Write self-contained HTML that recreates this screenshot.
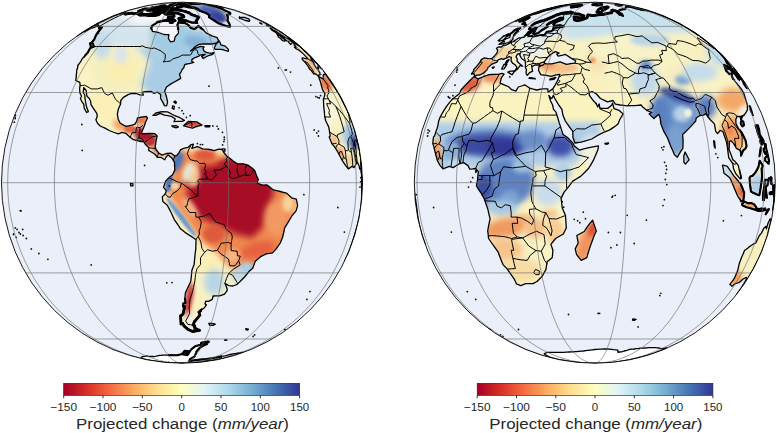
<!DOCTYPE html><html><head><meta charset="utf-8"><style>html,body{margin:0;padding:0;background:#fff;overflow:hidden}svg{display:block;font-family:"Liberation Sans",sans-serif;fill:#262626}</style></head><body>
<svg width="777" height="433" viewBox="0 0 777 433">
<defs><filter id="blur" x="-20%" y="-20%" width="140%" height="140%"><feGaussianBlur stdDeviation="3"/></filter><filter id="blur2" x="-20%" y="-20%" width="140%" height="140%"><feGaussianBlur stdDeviation="1.5"/></filter><filter id="b3" x="-30%" y="-30%" width="160%" height="160%"><feGaussianBlur stdDeviation="3"/></filter><filter id="b2" x="-40%" y="-40%" width="180%" height="180%"><feGaussianBlur stdDeviation="2"/></filter><filter id="b1" x="-60%" y="-60%" width="220%" height="220%"><feGaussianBlur stdDeviation="1.2"/></filter></defs>
<clipPath id="clipL"><circle cx="182.0" cy="182.7" r="180.5"/></clipPath>
<circle cx="182.0" cy="182.7" r="180.5" fill="#eaeffa"/>
<g clip-path="url(#clipL)">
<path d="M148.0,20.0 182.0,20.0 186.0,34.0 178.0,46.0 165.0,52.0 148.0,40.0Z" fill="#f6f7fb" filter="url(#blur2)"/>
<path d="M211.0,50.0 210.8,51.0 210.2,52.0 209.2,52.8 208.0,53.5 206.6,53.9 205.0,54.0 203.4,53.9 202.0,53.5 200.8,52.8 199.8,52.0 199.2,51.0 199.0,50.0 199.2,49.0 199.8,48.0 200.8,47.2 202.0,46.5 203.4,46.1 205.0,46.0 206.6,46.1 208.0,46.5 209.2,47.2 210.2,48.0 210.8,49.0Z" fill="#f6f7fa" filter="url(#blur2)"/>
<defs><path id="coastL" d="M182.5,353.9 183.6,352.6 184.8,351.2 187,351.5 189.2,351.8 188.1,353.4 187.2,354.8 185.7,354.5 184.1,354.2 182.5,353.9ZM215.2,324.2 213.4,325.3 209.7,325.3 208.8,323.4 211,323.5 213.1,323.6 215.2,324.2ZM184.3,308.1 184.7,306.5 183.6,306.5 183.2,303.5 185.5,303 185.2,300.3 184.9,297.5 185.5,292.6 187.9,287.5 189.3,284.5 190.7,281.5 191.1,278.6 191.4,275.7 191.9,270.2 194.1,264.6 194.5,260.4 194.9,256.1 195.3,252.5 195.8,248.9 195.9,244.3 196,239.7 192.5,237.3 186.5,233.4 180.5,228.8 178,224.8 174.3,219.6 172.7,216.1 171.1,212.5 169.2,208.9 167.3,205.3 162.9,201.6 162.3,196.9 165.4,193.7 166.3,190.6 163.5,187.4 165.6,181.1 169.4,177.3 172.6,174.8 174.8,170.1 174.6,166.2 174.5,162.3 172,158.2 168,154.8 165.8,157.6 164.8,159.8 160.8,157.3 157.4,157.3 155.3,154.5 151.4,152 148.7,150.4 148.8,147.6 145.3,144.2 143.4,141.5 141,141.5 137.2,140.6 132.8,139.3 130.1,137.2 125.8,133.3 122.1,132.3 118.3,133.9 112.9,132 109.2,130.5 105,128.1 100.2,126 97.5,123.3 95.9,119.8 97.3,116.3 96.9,113.6 95.6,111.6 92.9,107.6 91,104.7 90.7,101.6 89.3,98.5 87.2,96.6 86.6,94.4 86.2,90.5 83.8,87.6 83.2,92.5 84.8,95.2 85.1,99.1 85.7,102.7 86.6,107 88.3,111.6 86.6,112.5 84.2,108.1 83.7,104.1 81.7,101.3 80.4,98.5 81.6,96.3 79.9,93 79.6,88.4 80.1,85.5 79.9,82.8 78.8,81.8 75.7,80.5 76.2,77.1 76.3,74.6 76.7,72.3 76.6,70.8 77.7,67.2 77.8,65.5 80.5,61.9 82.4,58.5 85,55.6 87.5,52.9 88.9,50.4 90.4,47.9 91.7,47.5 90.9,46.9 90.4,45 90.1,43.2 91.6,43.5 93,43.8 91.9,42.4 94.2,39.5 95,37.6 95.8,35.8 96.7,33.9 99.3,30.5 101.1,28 99.1,28.3 99.4,27.5 99.8,26.7 99,26.5 98.3,26.4 98.1,25.9 98,25.4 96.2,26.1 94.5,26.7 93.2,27.2 92,27.7 97.8,24.5 95.2,25.6 90.7,28 88.5,29.1 86.3,30.3 82.5,32.5 81.2,33.2 80,33.9 78,35.2 77.2,35.8 79,34.5 80.9,33.2 83.6,31.6 86.3,30 88.9,28.5 91.9,26.4 92.6,25.9 93.4,25.4 95,24.5 98.5,22.7 100.3,21.7 101,21.4 101.7,21.2 104.5,19.8 107.5,18.3 110.5,17 111.5,16.5 114,15.5 118.2,13.9 119.7,13.3 121.2,12.8 122.4,12.4 123.5,12.1 124.8,11.7 124.3,12.1 124.1,12.4 124.2,12.9 124.5,13.2 124.9,13.7 125.4,14.2 126.8,13.9 128.1,13.6 129.4,13.4 130.7,13.3 132.1,13.1 132.6,13.3 133.1,13.5 133.7,13.7 135.2,13.6 136.7,13.5 137.6,13.9 138.5,14.3 139.1,14.7 139.8,15.1 141.7,15.1 143.7,15 145.7,15 147.3,15.3 148.9,15.6 150.9,15.6 152.8,15.6 154.8,15.6 157.4,15 156.2,14.7 154.9,14.4 157.9,13.1 158.8,13.4 159.8,13.6 161.5,12.4 163.2,11.2 163.5,12.1 164,13.1 165,13.7 166.2,14.4 168.4,14 170.5,13.6 172.1,13.6 173.7,13.6 173.9,14.9 174.1,16.3 172.2,16.6 170.2,16.9 168.3,17.2 168,17.9 170.4,18.2 171.8,18.8 173.3,19.4 175.1,20.7 172.3,20.7 169.5,20.7 166.8,20.7 166.4,20.3 163.6,20.9 160.8,21.5 157.9,22.2 155.2,23.8 152.3,25.6 151.2,28.3 152.4,31.3 155.5,31.9 158.6,32.5 161.3,33.5 164.1,34.5 166.5,34.6 168.9,34.7 168.6,36.6 168.4,38.5 170.6,41.8 174.2,41.2 174.7,38.9 175.2,36.7 178.5,33.1 178.3,30.5 178.1,28 177.4,24.8 178.4,22.6 180.5,22.7 182.7,22.9 184.9,23 188.1,24.8 190.9,28 194.4,29.1 197.1,27.2 198.3,25.9 201,28.1 203.8,30.5 206.4,33.1 209.1,34.4 211.8,35.8 214.3,36.7 217,37.6 218.7,40.5 216.8,43 214.4,43.5 211.9,44 208,44 204,44 201.6,44.2 199.1,44.4 195.4,46.5 193.1,48.8 190.6,51.1 193.6,49 197.1,47.6 200.5,46.3 204.1,46.9 203,48.6 203.8,50.7 206.3,52.4 208.8,52.9 211.4,53.3 214.3,52.4 212.7,54.4 210.2,55.2 207.6,56 205.4,57.2 203.2,58.5 201.7,56.4 205.1,54.4 202.5,54.7 199.8,55.1 198.8,56.2 194.5,57.8 191.9,59.6 191.8,61.5 193.7,62.4 190.3,63.3 187.6,63.9 184.9,64.5 184.4,65.5 183.7,68.1 182,69.6 181.3,71.6 179.5,74.1 180.7,78.4 178.1,79.9 174.4,82 170.9,83.9 166.5,87 164.7,91.1 165.6,94 166.5,96.8 167.6,102.2 166.6,105.8 164.4,105.6 162.9,102.4 160.6,98.5 160.6,94.6 157.6,92.2 153.7,93.3 151,91.4 145.6,91.6 142.6,92.2 143.3,95.2 139.9,94.9 136.1,93.5 131.5,93.3 128.1,94.6 123.4,97.4 120.8,100.5 120.6,103.9 118.5,108.7 117.3,114.2 118.2,119.2 120.1,123 123.5,125.1 126.2,126.3 132,125.1 134.9,124.2 136.6,121.3 137.5,118 141.3,117.1 146.2,116.5 147.5,118 145.5,122.2 144.3,126 142.6,129.9 141.5,133.3 144.4,133.6 149.5,133.3 154.8,133.6 157.1,136 156.1,140.6 155.2,146.7 156.1,149.8 158.8,152.9 161.8,155.1 166.5,153.5 171.1,153.2 174.8,156 176.7,155.7 178.9,152.9 180.5,149.8 183.5,148.3 188.2,147.3 191.2,144.6 193.4,144.2 191.9,148.3 194.4,147.6 197.4,146.7 202.7,148.9 206.2,149.2 209.8,149.5 214.4,150.7 218.9,149.2 221.9,149.5 222.2,150 222.2,148.9 224.9,148.9 225,151 222.9,151 223.5,152 226.7,156 230.7,159.1 233.5,161.3 237.5,163.8 243.4,163.8 247.8,165.1 252.3,168.2 254.7,170.4 256.8,176.4 258.3,179.5 257.1,183 262.5,185.2 266.7,184.9 270.2,187.4 273.5,189.9 276.9,190.7 280.2,191.5 283.4,192.3 286.6,193.1 291.5,197.8 296.3,199.1 297,202.4 297.6,205.6 296.1,210.9 291.7,216.2 289.8,219.5 287.9,222.7 284.7,227.9 283.7,232.5 282.7,237 280.3,243 276.2,248.9 272.6,252.9 269.4,253.4 266.2,253.8 260.6,256.7 255.3,261.3 254,264.8 252.7,268.3 248.9,271.6 244.6,277 241.8,279.8 239,282.6 236.6,284.7 232.9,286 229,285.7 225,283.6 226.7,287.5 227.3,290.3 224.5,294.1 219.6,295.8 216.4,295.9 213.1,296 212.3,299.4 208.4,301.4 205.7,301.1 205,303.9 206.4,304.9 204.1,308.1 201.4,310.1 198.9,312.1 199.9,315.1 196.8,318.9 194.2,322 193.2,324.9 194.7,325.7 194.2,326.3 195.8,328.7 197.7,329.6 199.5,330.4 196.3,330.9 192.7,331.5 190.6,330.6 188.4,329.6 186.2,327.8 183.9,325.9 182.7,323.4 181,324 180.8,320 180.5,315.8 182,315.2 183.1,313.6 183.7,310.9 184.3,308.1ZM93.6,46.5 93.2,46.9 93.8,46.7 93.4,45.2 93,43.8 93.3,45.1 93.6,46.5ZM158.3,14.8 159.6,13.8 157.7,14.9 158.3,14.8ZM130.4,183.3 132.9,183.6 132.9,185.9 130.7,185.9 130.4,183.3ZM178.4,126.9 176,127.8 173,126.9 171.8,126 176.3,125.7 178.4,126.9ZM204.9,125.7 210,125.7 209.7,126.9 205.3,126.9 204.9,125.7ZM188.5,121.3 192.7,121.6 196.8,121.9 202,125.1 196.9,126.3 192.5,128.1 186.5,126.6 183.5,125.7 188.5,121.3ZM182,121.3 178,121.4 174,121.6 175.2,118.9 171.2,116.3 167.8,115.7 164.5,115.1 160.2,113.3 155.8,115.4 152.9,115.4 156,113 161.8,111.6 167.5,111.9 171.1,113.8 174.7,115.7 179.9,117.7 184.4,120.4 182,121.3ZM172.2,108.4 172.6,105.8 174.3,106.4 173.9,109.3 172.2,108.4ZM173.8,101.9 175,101 176.4,102.2 175.8,103.6 173.8,101.9ZM171.7,23 169.7,22.6 171.5,22.5 173.3,22.4 171.7,23ZM175.6,12.9 173.6,12.7 171.6,12.4 169.7,12.2 167.8,12 168.2,10.8 168.7,9.6 170.5,9.6 172.3,9.5 174.1,9.5 175.5,9.7 177,9.9 178.6,10.1 180.1,10.3 181.7,10.6 183.3,11 185,11.4 187.1,12.1 189.4,12.8 191,14.2 193,15 195.1,15.7 197.3,16.5 198.6,17.4 197.3,19.4 196,21.2 197.3,23 194.4,22.8 191.4,22.6 188.8,21.7 186.2,20.7 183.8,20.4 181.5,20.1 179.3,19.8 178.7,18.5 181.4,17.7 183.9,16.9 183.2,15.3 180.9,14.5 178.7,13.6 177.1,13.2 175.6,12.9ZM145.1,8.9 146.1,9 147.1,9 148.1,9 149.1,9 148.3,9.8 147.1,10.3 148.5,10.3 149.9,10.3 151.7,10.1 153.6,9.9 153.6,10.7 153.8,11.5 154.4,12 155.1,12.6 154.5,13.4 152.6,13.7 150.6,13.9 148.7,14.2 146.8,14.3 145,14.4 143.2,14.5 141.5,14.6 140.3,14.4 139.3,14.2 138.3,14 140.1,12.8 142,11.6 141.2,11.7 140.4,11.7 139.7,11.6 139.1,11.4 138.5,11.2 141.8,10 145.1,8.9ZM166.7,9.1 167.7,9.4 168.7,9.6 168,10.6 166.2,10.8 164.5,11 162.7,11.2 161.2,11 160.9,11.2 159.2,11.3 157.6,11.4 156,11.5 158,10.1 160.1,9.8 161,9.2 162.4,9.2 163.8,9.1 165.3,9.1 166.7,9.1ZM170.8,4.9 172.1,4.8 173.4,4.6 174.7,4.4 174.3,5 175.4,4.7 176.4,4.4 177.4,4.2 178.3,4.1 179.2,4 180.1,4 180.9,3.9 181.7,3.8 182.5,3.8 183.3,3.7 184,3.6 184.8,3.7 185.7,3.7 186.6,3.8 187.5,3.9 187,4.1 186.4,4.4 185.6,4.6 184.7,4.9 183.9,5.1 183,5.3 182,5.5 182,6.8 180.8,6.9 179.6,7.1 178.4,7.2 177.1,7.3 178.3,7.3 177.8,8.8 176.1,8.7 174.5,8.7 172.8,8.7 171.2,8.7 169.6,8.7 168.6,8.3 167.6,8 167.2,8.7 165.9,8.7 164.7,8.8 165.6,8.1 166.5,8 167.4,8 166.9,7.8 166.4,7.6 168,7.4 169.6,7.3 171.2,7.1 172.6,5.9 171.4,6 170.3,6.1 169.2,6.1 170.8,4.9ZM160.9,7.2 159.1,8.5 157.7,8.6 156.3,8.6 154.9,8.6 153.6,8.7 152.3,8.7 151,8.8 151.5,8.1 152.2,7.6 153.4,7.5 154.6,7.5 155.9,7.4 157.1,7.3 158.4,7.3 159.6,7.2 160.9,7.2ZM164.5,8.4 163.4,8.4 162.3,8.4 164.8,6.8 166.1,6.8 167.4,6.8 164.5,8.4ZM163.5,6.3 162.2,6.3 160.9,6.4 159.6,6.5 161.4,5.8 162.6,5.8 163.8,5.7 165,5.6 163.5,6.3ZM203.3,343.4 201.3,343.1 204,342.6 206.8,342.1 208.4,341.8 205.8,342.6 203.3,343.4ZM225.4,340.3 224.4,339.8 227,340 225.4,340.3ZM245.8,328.7 248.4,329.1 247.8,330 245.8,329.6 245.8,328.7ZM348.8,251.8 350.5,247.4 352,243 353.4,238.5 354.6,234.7 355.7,230.9 357.4,224.8 358.8,218.7 359.7,214 360.4,209.4 361.1,203.9 361.6,198.4 361.7,193.7 361.7,189.8 361.5,185.9 361.6,179.5 361.6,175.6 361.4,171.7 360.8,168.5 360.3,168.9 359.8,169.2 358.9,165.4 357.5,162.6 356.2,163.8 355.2,165.7 354,167.6 352,166.3 350.2,167.6 348.3,168.9 345.5,165.4 342.3,160.7 339.1,154.5 336.5,149.8 334.4,146.7 331.8,143.6 330.5,140.3 329.2,136.9 330.2,136 329.5,131.4 328.7,126.9 325.8,121 324.7,116.5 324.3,111.4 323.7,106.4 323.6,102.9 323.4,99.4 324.3,96.6 325,93.8 322.5,89.7 321.4,85.5 320.2,81.2 318.7,77.1 319.1,76.9 321.1,77.9 323,78.9 323.3,77.9 323.4,76.2 323.4,74.6 324.1,74.5 324.8,74.4 325.3,74.3 325,73.3 325.8,74.1 328.5,77.9 332.1,83.1 333.5,84.7 334.5,86.1 337.7,91.3 340.7,96.7 343.5,102.1 346.1,107.6 348.6,113.1 350.8,118.8 352.9,124.5 354.7,130.4 356.4,136.2 357.9,142.1 359.2,148.1 360.2,154.1 361.1,160.1 361.7,166.2 362.2,172.3 362.4,178.4 362.5,184.5 362.3,190.5 362,196.6 361.4,202.7 360.6,208.8 359.6,214.8 358.4,220.7 357.1,226.7 355.5,232.6 353.7,238.4 351.7,244.2 349.5,249.9 347.2,255.5 344.6,261 346.8,256.4 348.8,251.8ZM309.6,55.1 308,53.5 308.6,54.2 311.3,56.9 312.9,58.5 315.7,61.5 316.3,62.1 319.6,65.9 318.6,64.8 317.1,63.1 314.8,60.8 311.3,57.3 310.4,56.6 311.2,57.8 312.2,59.4 311,58.7 311.5,60.1 313.5,62.2 313.8,63.2 314.1,64.3 316.3,67.9 318,69.6 319.7,72.6 320.2,74.8 319.5,75 318.6,75.1 318.7,76.6 316.3,74.3 314.8,73.6 313.8,74.1 311.2,70.3 310,69.6 308,66.2 304.8,61.9 302.3,59.6 302.1,58 303.6,58.2 305,58.5 306.3,58.6 307.5,58.7 305.2,55.7 302.4,52.9 298.7,50 295.9,48.6 294.4,47.3 295.1,46.9 296.2,47.1 294.1,45 295.3,45.4 294.3,44 292.7,42.2 292.3,41.6 290,39.5 288.5,38.2 288.3,37.6 287.9,37 284.9,34.8 280.1,31.7 279.2,30.9 278.2,30.1 282.1,32.7 285.1,34.8 287.8,36.7 287.6,36.4 287.3,36.1 288.3,36.9 293,40.4 297.8,44.2 302.4,48.2 306.9,52.4 311.3,56.7 309.6,55.1ZM284.5,34.1 283.9,33.8 281.5,32.2 277.5,29.6 274.8,28 275.8,28.8 276.9,29.6 275.7,29.1 270.9,26.4 265.5,23.3 263.7,22.2 261.9,21.2 260.3,20.3 258.7,19.4 253.9,17.2 248.2,14.8 253.5,17 258.7,19.3 263.9,21.8 268.9,24.5 273.9,27.4 278.8,30.4 283.6,33.5 284.5,34.1ZM361.1,172.6 360.9,170.7 361.1,172.6ZM324.5,72.1 323.8,71.1 326.6,74.7 325.6,73.4 324.5,72.1ZM317.7,66.9 318.7,68.4 317.7,67.6 317.7,66.9ZM321.5,68.9 317.5,64.5 321.5,68.9ZM316.6,63.3 314,60.5 313.4,59.6 316.7,63.3ZM221.6,49.4 218.3,49.4 214.9,49.4 214.4,47.5 216.5,43.4 219.4,41.2 220.9,44.8 225.2,46.1 228.4,49.4 228.4,51.3 225,50.4 221.6,49.4ZM279.8,35.6 281.2,36.9 285.3,40.1 285.1,40.7 284.8,41.2 282.7,40.7 280.6,38.5 278.2,36.7 277.9,35.6 277.1,34.3 279.8,35.6ZM278.7,34.8 275.7,32.5 272.4,30.5 270.4,28.6 271.4,28.6 273.4,30.3 275.3,30.8 279.7,33.8 283,35.8 286.1,37.8 288.4,39.1 292.1,42.2 292,42.8 291.7,43.3 291.3,43.8 291,44.1 290.5,44.4 288.7,42.4 288.9,41.6 287,41 284.7,38.9 284.6,38 282.9,36.7 280.1,35.4 278.7,34.8ZM268.9,26.5 266.4,25.1 267.4,25.6 268.9,26.5ZM260.1,22.9 262,24.1 259.6,22.9ZM246.5,20.7 245.2,20.5 240.2,18.5 239.7,17.3 241.2,17.4 242.7,17.5 243.7,17.4 244.6,17.3 248.5,18.8 249.8,20.1 249.6,20.7 249.4,21.3 247.9,21 246.5,20.7ZM201.6,11.5 199.2,10.1 196.9,8.8 195.1,8.1 193.3,7.6 191.8,7.4 190.4,7.2 189,7 187.7,6.8 186.3,6.5 185.1,6.1 183.9,5.8 185,5.4 185.9,5 186.7,4.7 187.5,4.5 188.2,4.3 188.9,4.2 189.6,4.1 190.3,4 190.9,3.9 191.4,3.8 192,3.7 192.5,3.7 193,3.6 193.8,3.5 194.5,3.5 195.1,3.4 195.9,3.4 196.7,3.5 197.4,3.5 198.2,3.5 199,3.6 199.8,3.6 200.5,3.7 201.3,3.7 202.4,3.8 203.4,4 204.5,4.1 205.6,4.2 206.9,4.5 208.1,4.9 209.3,5.2 212.7,6 216.1,6.8 219.1,7.8 222,8.8 223.6,9.6 225.1,10.6 230.1,12.6 230.3,13.1 230.4,13.6 229.7,14 228.9,14.3 228.1,14.6 227.1,15 227.5,16.1 227.8,17.2 227.9,18.3 227.7,19.4 227.4,20.5 228.5,22.2 229.5,24.1 230.1,26.7 227.8,26.4 225.6,25.8 223.3,25.1 220.9,24.2 218.5,23.3 214.2,20.5 211.5,18.8 209,17.2 209.5,15.3 206.1,13.1 203.8,12.3 201.6,11.5ZM213.9,5.1 213.3,4.9 212.7,4.8 217.8,5.8 222.9,6.9 220.4,6.3 217.9,5.8 213.9,5.1Z"/><path id="antL" d="M146.2,359.6 145.4,359.4 144.6,359.2 144,359 143.3,358.8 142.8,358.6 142.3,358.4 141.9,358.1 141.5,357.9 141.2,357.7 141.4,357.1 142.1,356.8 142.5,356.6 143.1,356.5 143.9,356.4 144.6,356.3 145.5,356.2 146.4,356 147.9,356.2 149.5,356.3 151.1,356.4 152.7,356.5 154.3,356.6 155.2,356.4 156.2,356.1 157.3,355.9 158.5,355.6 159.7,355.3 161.3,355.3 163,355.2 164.7,355.2 166.4,355.2 168.2,355.1 170,355.2 171.9,355.2 173.7,355.2 175.6,355.3 177.4,355.3 178.8,354.8 180.4,354.4 182,353.9 183.8,353.2 185.7,352.6 187.8,351.9 189.9,351.2 191.8,348.9 195.2,346.3 197.7,345.6 200.2,344.9 202.8,344.2 205,344.1 207.1,344 203.4,345.6 199.4,348.2 198,349.8 196.6,351.2 196.1,352.8 195.5,354.4 195,355.5 194.5,356.6 192,358 189.8,359.3 189.7,360.2 189.3,361 190.5,360.8 191.7,360.7 193,360.5 194.3,360.3 195.7,360.1 197.1,360 198.5,359.8 200,359.6 201.3,359.5 202.6,359.4 203.9,359.3 205.2,359.2 206.5,359.1 208.3,358.8 210.2,358.5 212,358.2 213.9,357.8 216.1,357.5 218.3,357 220.5,356.6 222.8,356.2 225,355.8 227.7,355.2 230.3,354.5 233,353.9 234.6,353.6 236.1,353.4 237.6,353.1 239,352.8 240.3,352.6 241.6,352.3 242.2,352.3 243,352.3 243.5,352.3 237.8,354.4 231.8,356.2 225.7,357.8 219.5,359.3 213.3,360.5 207.1,361.4 200.9,362.2 194.6,362.8 188.3,363.1 182,363.2 175.7,363.1 169.4,362.8 163.1,362.2 156.9,361.4 150.7,360.5 144.5,359.3 145,359.4 145.6,359.5 146.2,359.6Z"/></defs>
<clipPath id="landL"><use href="#coastL"/></clipPath>
<g clip-path="url(#landL)">
<use href="#coastL" fill="#f9f2c4"/>
<g>
<path d="M86.0,30.0 140.0,2.0 152.0,18.0 150.0,48.0 96.0,47.0Z" fill="#d4e5ef" filter="url(#b3)"/>
<path d="M95.0,46.0 136.0,48.0 142.0,64.0 138.0,86.0 115.0,96.0 95.0,90.0 90.0,60.0Z" fill="#f6efbe" filter="url(#b3)"/>
<path d="M136.0,70.0 135.5,73.1 134.1,76.0 131.9,78.5 129.0,80.4 125.6,81.6 122.0,82.0 118.4,81.6 115.0,80.4 112.1,78.5 109.9,76.0 108.5,73.1 108.0,70.0 108.5,66.9 109.9,64.0 112.1,61.5 115.0,59.6 118.4,58.4 122.0,58.0 125.6,58.4 129.0,59.6 131.9,61.5 134.1,64.0 135.5,66.9Z" fill="#faeeb0" filter="url(#b3)"/>
<path d="M111.0,45.0 110.7,48.6 109.8,52.0 108.4,54.9 106.5,57.1 104.3,58.5 102.0,59.0 99.7,58.5 97.5,57.1 95.6,54.9 94.2,52.0 93.3,48.6 93.0,45.0 93.3,41.4 94.2,38.0 95.6,35.1 97.5,32.9 99.7,31.5 102.0,31.0 104.3,31.5 106.5,32.9 108.4,35.1 109.8,38.0 110.7,41.4Z" fill="#c4dbe9" filter="url(#b3)"/>
<path d="M128.0,55.0 127.8,57.3 127.1,59.5 125.9,61.4 124.5,62.8 122.8,63.7 121.0,64.0 119.2,63.7 117.5,62.8 116.1,61.4 114.9,59.5 114.2,57.3 114.0,55.0 114.2,52.7 114.9,50.5 116.1,48.6 117.5,47.2 119.2,46.3 121.0,46.0 122.8,46.3 124.5,47.2 125.9,48.6 127.1,50.5 127.8,52.7Z" fill="#dce6e6" filter="url(#b2)"/>
<path d="M136.0,46.0 196.0,54.0 202.0,62.0 180.0,90.0 166.0,104.0 150.0,94.0 140.0,86.0 150.0,62.0Z" fill="#aacde5" filter="url(#b3)"/>
<path d="M150.0,20.0 182.0,22.0 216.0,34.0 230.0,50.0 206.0,63.0 172.0,58.0 150.0,48.0Z" fill="#a2cbe5" filter="url(#b3)"/>
<path d="M207.8,44.1 207.1,45.5 205.7,46.8 203.6,47.7 201.0,48.2 198.1,48.2 195.0,47.9 191.9,47.2 189.2,46.1 186.9,44.7 185.2,43.1 184.3,41.5 184.2,39.9 184.9,38.5 186.3,37.2 188.4,36.3 191.0,35.8 193.9,35.8 197.0,36.1 200.1,36.8 202.8,37.9 205.1,39.3 206.8,40.9 207.7,42.5Z" fill="#88b2d8" filter="url(#b2)"/>
<path d="M110.0,0.0 225.0,0.0 198.0,26.0 170.0,22.0 140.0,26.0 118.0,16.0Z" fill="#f4f6f8" filter="url(#b3)"/>
<path d="M225.7,19.5 224.1,21.7 221.2,23.2 217.2,24.0 212.4,23.9 207.0,23.0 201.6,21.4 196.3,19.1 191.7,16.4 188.0,13.3 185.4,10.2 184.1,7.2 184.3,4.5 185.9,2.3 188.8,0.8 192.8,0.0 197.6,0.1 203.0,1.0 208.4,2.6 213.7,4.9 218.3,7.6 222.0,10.7 224.6,13.8 225.9,16.8Z" fill="#8fb0d8" filter="url(#b3)"/>
<path d="M224.7,19.9 223.5,21.4 221.5,22.3 218.9,22.7 215.8,22.5 212.4,21.7 209.0,20.3 205.9,18.6 203.1,16.5 200.9,14.3 199.5,12.0 199.0,9.9 199.3,8.1 200.5,6.6 202.5,5.7 205.1,5.3 208.2,5.5 211.6,6.3 215.0,7.7 218.1,9.4 220.9,11.5 223.1,13.7 224.5,16.0 225.0,18.1Z" fill="#4a5fae" filter="url(#b2)"/>
<path d="M226.3,20.4 225.6,21.2 224.4,21.7 222.9,22.0 221.2,21.8 219.2,21.4 217.3,20.6 215.5,19.6 213.9,18.4 212.7,17.2 211.9,15.9 211.6,14.7 211.7,13.6 212.4,12.8 213.6,12.3 215.1,12.0 216.8,12.2 218.8,12.6 220.7,13.4 222.5,14.4 224.1,15.6 225.3,16.8 226.1,18.1 226.4,19.3Z" fill="#363c96" filter="url(#b2)"/>
<path d="M230.0,25.0 229.9,25.8 229.5,26.5 228.8,27.1 228.0,27.6 227.0,27.9 226.0,28.0 225.0,27.9 224.0,27.6 223.2,27.1 222.5,26.5 222.1,25.8 222.0,25.0 222.1,24.2 222.5,23.5 223.2,22.9 224.0,22.4 225.0,22.1 226.0,22.0 227.0,22.1 228.0,22.4 228.8,22.9 229.5,23.5 229.9,24.2Z" fill="#d0e2f0" filter="url(#b1)"/>
<path d="M251.0,18.0 250.8,18.8 250.2,19.5 249.2,20.1 248.0,20.6 246.6,20.9 245.0,21.0 243.4,20.9 242.0,20.6 240.8,20.1 239.8,19.5 239.2,18.8 239.0,18.0 239.2,17.2 239.8,16.5 240.8,15.9 242.0,15.4 243.4,15.1 245.0,15.0 246.6,15.1 248.0,15.4 249.2,15.9 250.2,16.5 250.8,17.2Z" fill="#b8d4ea" filter="url(#b1)"/>
<path d="M86.0,88.0 116.0,96.0 126.0,112.0 120.0,124.0 104.0,120.0 88.0,104.0Z" fill="#fbf0b8" filter="url(#b3)"/>
<path d="M131.1,130.2 130.2,131.3 128.8,131.9 126.9,132.2 124.7,132.0 122.3,131.5 119.9,130.5 117.6,129.3 115.6,127.8 114.1,126.2 113.1,124.6 112.7,123.1 112.9,121.8 113.8,120.7 115.2,120.1 117.1,119.8 119.3,120.0 121.7,120.5 124.1,121.5 126.4,122.7 128.4,124.2 129.9,125.8 130.9,127.4 131.3,128.9Z" fill="#f4a56c" filter="url(#b2)"/>
<path d="M148.0,120.0 147.8,121.3 147.2,122.5 146.2,123.5 145.0,124.3 143.6,124.8 142.0,125.0 140.4,124.8 139.0,124.3 137.8,123.5 136.8,122.5 136.2,121.3 136.0,120.0 136.2,118.7 136.8,117.5 137.8,116.5 139.0,115.7 140.4,115.2 142.0,115.0 143.6,115.2 145.0,115.7 146.2,116.5 147.2,117.5 147.8,118.7Z" fill="#e8704a" filter="url(#b2)"/>
<path d="M136.0,129.0 135.8,130.0 135.2,131.0 134.2,131.8 133.0,132.5 131.6,132.9 130.0,133.0 128.4,132.9 127.0,132.5 125.8,131.8 124.8,131.0 124.2,130.0 124.0,129.0 124.2,128.0 124.8,127.0 125.8,126.2 127.0,125.5 128.4,125.1 130.0,125.0 131.6,125.1 133.0,125.5 134.2,126.2 135.2,127.0 135.8,128.0Z" fill="#e06a44" filter="url(#b1)"/>
<path d="M155.9,141.1 154.7,142.5 152.9,143.6 150.6,144.1 147.9,144.0 145.0,143.4 142.0,142.3 139.3,140.8 137.0,139.0 135.2,136.9 134.1,134.8 133.7,132.7 134.1,130.9 135.3,129.5 137.1,128.4 139.4,127.9 142.1,128.0 145.0,128.6 148.0,129.7 150.7,131.2 153.0,133.0 154.8,135.1 155.9,137.2 156.3,139.3Z" fill="#a8182a" filter="url(#b2)"/>
<path d="M155.0,142.0 154.8,143.0 154.3,144.0 153.5,144.8 152.5,145.5 151.3,145.9 150.0,146.0 148.7,145.9 147.5,145.5 146.5,144.8 145.7,144.0 145.2,143.0 145.0,142.0 145.2,141.0 145.7,140.0 146.5,139.2 147.5,138.5 148.7,138.1 150.0,138.0 151.3,138.1 152.5,138.5 153.5,139.2 154.3,140.0 154.8,141.0Z" fill="#c03030" filter="url(#b1)"/>
<path d="M167.3,153.4 166.6,154.2 165.4,154.7 163.9,155.0 162.2,154.8 160.2,154.4 158.3,153.6 156.5,152.6 154.9,151.4 153.7,150.2 152.9,148.9 152.6,147.7 152.7,146.6 153.4,145.8 154.6,145.3 156.1,145.0 157.8,145.2 159.8,145.6 161.7,146.4 163.5,147.4 165.1,148.6 166.3,149.8 167.1,151.1 167.4,152.3Z" fill="#c23a30" filter="url(#b2)"/>
<path d="M174.0,153.0 173.9,153.5 173.5,154.0 172.8,154.4 172.0,154.7 171.0,154.9 170.0,155.0 169.0,154.9 168.0,154.7 167.2,154.4 166.5,154.0 166.1,153.5 166.0,153.0 166.1,152.5 166.5,152.0 167.2,151.6 168.0,151.3 169.0,151.1 170.0,151.0 171.0,151.1 172.0,151.3 172.8,151.6 173.5,152.0 173.9,152.5Z" fill="#f2c090" filter="url(#b1)"/>
<path d="M185.5,120.1 184.6,121.2 182.7,122.0 180.0,122.3 176.6,122.3 172.8,121.7 168.7,120.8 164.8,119.6 161.2,118.1 158.2,116.5 156.0,114.8 154.7,113.2 154.5,111.9 155.4,110.8 157.3,110.0 160.0,109.7 163.4,109.7 167.2,110.3 171.3,111.2 175.2,112.4 178.8,113.9 181.8,115.5 184.0,117.2 185.3,118.8Z" fill="#f2f0ea" filter="url(#b2)"/>
<path d="M202.0,124.0 201.7,124.8 200.8,125.5 199.4,126.1 197.5,126.6 195.3,126.9 193.0,127.0 190.7,126.9 188.5,126.6 186.6,126.1 185.2,125.5 184.3,124.8 184.0,124.0 184.3,123.2 185.2,122.5 186.6,121.9 188.5,121.4 190.7,121.1 193.0,121.0 195.3,121.1 197.5,121.4 199.4,121.9 200.8,122.5 201.7,123.2Z" fill="#d84a36" filter="url(#b1)"/>
<path d="M175.0,150.0 270.0,160.0 298.0,200.0 282.0,262.0 240.0,276.0 200.0,240.0 168.0,195.0Z" fill="#f08850" filter="url(#b3)"/>
<path d="M216.0,155.0 215.6,156.6 214.5,158.0 212.8,159.2 210.5,160.2 207.8,160.8 205.0,161.0 202.2,160.8 199.5,160.2 197.2,159.2 195.5,158.0 194.4,156.6 194.0,155.0 194.4,153.4 195.5,152.0 197.2,150.8 199.5,149.8 202.2,149.2 205.0,149.0 207.8,149.2 210.5,149.8 212.8,150.8 214.5,152.0 215.6,153.4Z" fill="#e0583a" filter="url(#b2)"/>
<path d="M262.0,165.0 261.3,167.1 259.1,169.0 255.6,170.7 251.0,171.9 245.7,172.7 240.0,173.0 234.3,172.7 229.0,171.9 224.4,170.7 220.9,169.0 218.7,167.1 218.0,165.0 218.7,162.9 220.9,161.0 224.4,159.3 229.0,158.1 234.3,157.3 240.0,157.0 245.7,157.3 251.0,158.1 255.6,159.3 259.1,161.0 261.3,162.9Z" fill="#b01c2c" filter="url(#b3)"/>
<path d="M191.0,168.0 230.0,162.0 262.0,166.0 275.0,176.0 272.0,205.0 265.0,225.0 252.0,238.0 235.0,234.0 218.0,226.0 200.0,218.0 188.0,206.0 187.0,186.0Z" fill="#a80a26" filter="url(#b3)"/>
<path d="M200.0,175.0 199.8,178.1 199.1,181.0 197.9,183.5 196.5,185.4 194.8,186.6 193.0,187.0 191.2,186.6 189.5,185.4 188.1,183.5 186.9,181.0 186.2,178.1 186.0,175.0 186.2,171.9 186.9,169.0 188.1,166.5 189.5,164.6 191.2,163.4 193.0,163.0 194.8,163.4 196.5,164.6 197.9,166.5 199.1,169.0 199.8,171.9Z" fill="#f6c48e" filter="url(#b2)"/>
<path d="M192.7,173.7 191.7,176.1 190.4,178.2 188.9,179.9 187.4,181.0 185.9,181.5 184.6,181.4 183.5,180.6 182.7,179.3 182.3,177.4 182.2,175.2 182.6,172.8 183.3,170.3 184.3,167.9 185.6,165.8 187.1,164.1 188.6,163.0 190.1,162.5 191.4,162.6 192.5,163.4 193.3,164.7 193.7,166.6 193.8,168.8 193.4,171.2Z" fill="#e6e4d0" filter="url(#b2)"/>
<path d="M181.5,164.1 180.2,166.6 178.6,168.8 176.9,170.5 175.2,171.7 173.7,172.2 172.4,172.0 171.3,171.1 170.7,169.6 170.5,167.6 170.8,165.2 171.4,162.5 172.5,159.9 173.8,157.4 175.4,155.2 177.1,153.5 178.8,152.3 180.3,151.8 181.6,152.0 182.7,152.9 183.3,154.4 183.5,156.4 183.2,158.8 182.6,161.5Z" fill="#4474bc" filter="url(#b2)"/>
<path d="M172.4,183.6 171.9,185.9 171.2,188.0 170.3,189.7 169.4,191.0 168.4,191.7 167.4,191.9 166.6,191.4 165.9,190.4 165.5,188.8 165.2,186.9 165.3,184.7 165.6,182.4 166.1,180.1 166.8,178.0 167.7,176.3 168.6,175.0 169.6,174.3 170.6,174.1 171.4,174.6 172.1,175.6 172.5,177.2 172.8,179.1 172.7,181.3Z" fill="#4a78be" filter="url(#b1)"/>
<path d="M179.0,186.0 178.9,187.0 178.5,188.0 177.8,188.8 177.0,189.5 176.0,189.9 175.0,190.0 174.0,189.9 173.0,189.5 172.2,188.8 171.5,188.0 171.1,187.0 171.0,186.0 171.1,185.0 171.5,184.0 172.2,183.2 173.0,182.5 174.0,182.1 175.0,182.0 176.0,182.1 177.0,182.5 177.8,183.2 178.5,184.0 178.9,185.0Z" fill="#f6d0a0" filter="url(#b1)"/>
<path d="M183.0,215.5 186.7,220.5 190.0,225.3 192.6,229.5 194.5,232.8 195.5,235.1 195.4,236.2 194.4,235.9 192.5,234.4 189.8,231.6 186.5,227.9 182.8,223.4 179.0,218.5 175.3,213.5 172.0,208.7 169.4,204.5 167.5,201.2 166.5,198.9 166.6,197.8 167.6,198.1 169.5,199.6 172.2,202.4 175.5,206.1 179.2,210.6Z" fill="#6a9ad0" filter="url(#b1)"/>
<path d="M194.1,205.1 195.7,207.8 197.0,210.4 197.8,212.9 198.0,215.1 197.7,216.8 196.9,217.8 195.6,218.2 193.9,217.9 192.0,217.0 189.9,215.4 187.8,213.3 185.9,210.9 184.3,208.2 183.0,205.6 182.2,203.1 182.0,200.9 182.3,199.2 183.1,198.2 184.4,197.8 186.1,198.1 188.0,199.0 190.1,200.6 192.2,202.7Z" fill="#f4b080" filter="url(#b2)"/>
<path d="M288.0,218.0 287.6,222.7 286.4,227.0 284.5,230.7 282.0,233.6 279.1,235.4 276.0,236.0 272.9,235.4 270.0,233.6 267.5,230.7 265.6,227.0 264.4,222.7 264.0,218.0 264.4,213.3 265.6,209.0 267.5,205.3 270.0,202.4 272.9,200.6 276.0,200.0 279.1,200.6 282.0,202.4 284.5,205.3 286.4,209.0 287.6,213.3Z" fill="#f29a62" filter="url(#b3)"/>
<path d="M294.0,203.0 293.8,205.3 293.2,207.5 292.2,209.4 291.0,210.8 289.6,211.7 288.0,212.0 286.4,211.7 285.0,210.8 283.8,209.4 282.8,207.5 282.2,205.3 282.0,203.0 282.2,200.7 282.8,198.5 283.8,196.6 285.0,195.2 286.4,194.3 288.0,194.0 289.6,194.3 291.0,195.2 292.2,196.6 293.2,198.5 293.8,200.7Z" fill="#f8d49a" filter="url(#b2)"/>
<path d="M275.4,245.3 275.3,247.5 274.1,249.8 271.8,252.2 268.5,254.4 264.5,256.3 260.1,257.7 255.5,258.7 251.1,259.0 247.2,258.8 244.0,257.9 241.7,256.5 240.6,254.7 240.7,252.5 241.9,250.2 244.2,247.8 247.5,245.6 251.5,243.7 255.9,242.3 260.5,241.3 264.9,241.0 268.8,241.2 272.0,242.1 274.3,243.5Z" fill="#e66040" filter="url(#b3)"/>
<path d="M225.0,234.0 224.6,236.3 223.5,238.5 221.8,240.4 219.5,241.8 216.8,242.7 214.0,243.0 211.2,242.7 208.5,241.8 206.2,240.4 204.5,238.5 203.4,236.3 203.0,234.0 203.4,231.7 204.5,229.5 206.2,227.6 208.5,226.2 211.2,225.3 214.0,225.0 216.8,225.3 219.5,226.2 221.8,227.6 223.5,229.5 224.6,231.7Z" fill="#dd5a3a" filter="url(#b2)"/>
<path d="M240.0,256.0 239.7,257.8 238.9,259.5 237.7,260.9 236.0,262.1 234.1,262.8 232.0,263.0 229.9,262.8 228.0,262.1 226.3,260.9 225.1,259.5 224.3,257.8 224.0,256.0 224.3,254.2 225.1,252.5 226.3,251.1 228.0,249.9 229.9,249.2 232.0,249.0 234.1,249.2 236.0,249.9 237.7,251.1 238.9,252.5 239.7,254.2Z" fill="#f5b583" filter="url(#b2)"/>
<path d="M219.0,262.0 218.6,264.8 217.5,267.5 215.8,269.8 213.5,271.5 210.8,272.6 208.0,273.0 205.2,272.6 202.5,271.5 200.2,269.8 198.5,267.5 197.4,264.8 197.0,262.0 197.4,259.2 198.5,256.5 200.2,254.2 202.5,252.5 205.2,251.4 208.0,251.0 210.8,251.4 213.5,252.5 215.8,254.2 217.5,256.5 218.6,259.2Z" fill="#fbeeb5" filter="url(#b3)"/>
<path d="M224.0,282.0 223.7,285.4 222.7,288.5 221.1,291.2 219.0,293.3 216.6,294.6 214.0,295.0 211.4,294.6 209.0,293.3 206.9,291.2 205.3,288.5 204.3,285.4 204.0,282.0 204.3,278.6 205.3,275.5 206.9,272.8 209.0,270.7 211.4,269.4 214.0,269.0 216.6,269.4 219.0,270.7 221.1,272.8 222.7,275.5 223.7,278.6Z" fill="#b6d6e8" filter="url(#b3)"/>
<path d="M253.4,268.0 254.2,270.2 254.2,272.7 253.5,275.3 252.1,277.8 250.0,280.0 247.5,281.8 244.7,283.1 241.7,283.8 238.8,283.8 236.2,283.1 234.1,281.8 232.6,280.0 231.8,277.8 231.8,275.3 232.5,272.7 233.9,270.2 236.0,268.0 238.5,266.2 241.3,264.9 244.3,264.2 247.2,264.2 249.8,264.9 251.9,266.2Z" fill="#c0dcea" filter="url(#b3)"/>
<path d="M253.0,268.0 252.8,269.3 252.2,270.5 251.2,271.5 250.0,272.3 248.6,272.8 247.0,273.0 245.4,272.8 244.0,272.3 242.8,271.5 241.8,270.5 241.2,269.3 241.0,268.0 241.2,266.7 241.8,265.5 242.8,264.5 244.0,263.7 245.4,263.2 247.0,263.0 248.6,263.2 250.0,263.7 251.2,264.5 252.2,265.5 252.8,266.7Z" fill="#a9cde4" filter="url(#b2)"/>
<path d="M192.5,300.5 191.7,305.1 190.7,309.3 189.7,312.9 188.6,315.7 187.5,317.3 186.5,317.8 185.7,317.1 185.1,315.2 184.8,312.3 184.7,308.5 185.0,304.1 185.5,299.5 186.3,294.9 187.3,290.7 188.3,287.1 189.4,284.3 190.5,282.7 191.5,282.2 192.3,282.9 192.9,284.8 193.2,287.7 193.3,291.5 193.0,295.9Z" fill="#c0282c" filter="url(#b2)"/>
<path d="M209.0,314.0 208.7,318.4 207.9,322.5 206.7,326.0 205.0,328.7 203.1,330.4 201.0,331.0 198.9,330.4 197.0,328.7 195.3,326.0 194.1,322.5 193.3,318.4 193.0,314.0 193.3,309.6 194.1,305.5 195.3,302.0 197.0,299.3 198.9,297.6 201.0,297.0 203.1,297.6 205.0,299.3 206.7,302.0 207.9,305.5 208.7,309.6Z" fill="#f9f1c0" filter="url(#b3)"/>
<path d="M194.0,322.0 193.9,324.6 193.5,327.0 192.8,329.1 192.0,330.7 191.0,331.7 190.0,332.0 189.0,331.7 188.0,330.7 187.2,329.1 186.5,327.0 186.1,324.6 186.0,322.0 186.1,319.4 186.5,317.0 187.2,314.9 188.0,313.3 189.0,312.3 190.0,312.0 191.0,312.3 192.0,313.3 192.8,314.9 193.5,317.0 193.9,319.4Z" fill="#eeece6" filter="url(#b2)"/>
<path d="M310.0,48.0 309.7,50.6 308.7,53.0 307.1,55.1 305.0,56.7 302.6,57.7 300.0,58.0 297.4,57.7 295.0,56.7 292.9,55.1 291.3,53.0 290.3,50.6 290.0,48.0 290.3,45.4 291.3,43.0 292.9,40.9 295.0,39.3 297.4,38.3 300.0,38.0 302.6,38.3 305.0,39.3 307.1,40.9 308.7,43.0 309.7,45.4Z" fill="#f8e4b8" filter="url(#b2)"/>
<path d="M318.7,61.0 319.5,63.2 319.8,65.6 319.3,68.0 318.2,70.2 316.6,72.2 314.5,73.8 312.1,74.8 309.6,75.2 307.1,75.0 304.8,74.2 302.8,72.8 301.3,71.0 300.5,68.8 300.2,66.4 300.7,64.0 301.8,61.8 303.4,59.8 305.5,58.2 307.9,57.2 310.4,56.8 312.9,57.0 315.2,57.8 317.2,59.2Z" fill="#f4bc8c" filter="url(#b2)"/>
<path d="M331.4,80.5 332.2,82.7 332.6,84.9 332.5,87.0 332.0,88.8 331.1,90.2 329.8,91.2 328.3,91.5 326.6,91.3 324.8,90.6 323.2,89.3 321.7,87.6 320.6,85.5 319.8,83.3 319.4,81.1 319.5,79.0 320.0,77.2 320.9,75.8 322.2,74.8 323.7,74.5 325.4,74.7 327.2,75.4 328.8,76.7 330.3,78.4Z" fill="#e8784a" filter="url(#b2)"/>
<path d="M338.0,110.0 337.7,113.6 336.9,117.0 335.7,119.9 334.0,122.1 332.1,123.5 330.0,124.0 327.9,123.5 326.0,122.1 324.3,119.9 323.1,117.0 322.3,113.6 322.0,110.0 322.3,106.4 323.1,103.0 324.3,100.1 326.0,97.9 327.9,96.5 330.0,96.0 332.1,96.5 334.0,97.9 335.7,100.1 336.9,103.0 337.7,106.4Z" fill="#f8f4dc" filter="url(#b2)"/>
<path d="M339.0,140.0 338.8,141.6 338.3,143.0 337.5,144.2 336.5,145.2 335.3,145.8 334.0,146.0 332.7,145.8 331.5,145.2 330.5,144.2 329.7,143.0 329.2,141.6 329.0,140.0 329.2,138.4 329.7,137.0 330.5,135.8 331.5,134.8 332.7,134.2 334.0,134.0 335.3,134.2 336.5,134.8 337.5,135.8 338.3,137.0 338.8,138.4Z" fill="#eec08c" filter="url(#b2)"/>
<path d="M344.0,153.0 343.8,154.6 343.3,156.0 342.5,157.2 341.5,158.2 340.3,158.8 339.0,159.0 337.7,158.8 336.5,158.2 335.5,157.2 334.7,156.0 334.2,154.6 334.0,153.0 334.2,151.4 334.7,150.0 335.5,148.8 336.5,147.8 337.7,147.2 339.0,147.0 340.3,147.2 341.5,147.8 342.5,148.8 343.3,150.0 343.8,151.4Z" fill="#f0a070" filter="url(#b2)"/>
<path d="M358.0,135.0 357.7,138.1 356.9,141.0 355.7,143.5 354.0,145.4 352.1,146.6 350.0,147.0 347.9,146.6 346.0,145.4 344.3,143.5 343.1,141.0 342.3,138.1 342.0,135.0 342.3,131.9 343.1,129.0 344.3,126.5 346.0,124.6 347.9,123.4 350.0,123.0 352.1,123.4 354.0,124.6 355.7,126.5 356.9,129.0 357.7,131.9Z" fill="#a8c8e4" filter="url(#b2)"/>
<path d="M360.0,142.0 359.8,144.1 359.3,146.0 358.5,147.7 357.5,148.9 356.3,149.7 355.0,150.0 353.7,149.7 352.5,148.9 351.5,147.7 350.7,146.0 350.2,144.1 350.0,142.0 350.2,139.9 350.7,138.0 351.5,136.3 352.5,135.1 353.7,134.3 355.0,134.0 356.3,134.3 357.5,135.1 358.5,136.3 359.3,138.0 359.8,139.9Z" fill="#3a50a0" filter="url(#b2)"/>
<path d="M356.0,160.0 355.8,161.6 355.2,163.0 354.2,164.2 353.0,165.2 351.6,165.8 350.0,166.0 348.4,165.8 347.0,165.2 345.8,164.2 344.8,163.0 344.2,161.6 344.0,160.0 344.2,158.4 344.8,157.0 345.8,155.8 347.0,154.8 348.4,154.2 350.0,154.0 351.6,154.2 353.0,154.8 354.2,155.8 355.2,157.0 355.8,158.4Z" fill="#f2d0a0" filter="url(#b2)"/>
<path d="M300.0,32.0 299.7,34.1 298.9,36.0 297.7,37.7 296.0,38.9 294.1,39.7 292.0,40.0 289.9,39.7 288.0,38.9 286.3,37.7 285.1,36.0 284.3,34.1 284.0,32.0 284.3,29.9 285.1,28.0 286.3,26.3 288.0,25.1 289.9,24.3 292.0,24.0 294.1,24.3 296.0,25.1 297.7,26.3 298.9,28.0 299.7,29.9Z" fill="#e6eef0" filter="url(#b2)"/>
</g></g>
<path d="M79.9,85.7 82.3,85.5 84.8,85.2 88,87 91.3,88.9 94.4,88.9 97.5,88.9 101.8,87.6 103.2,90.5 104.7,93.5 107.9,95.2 112.4,93 113.9,96.2 115.6,99.4 118.1,101.6 120.6,103.9M94,46.5 96.8,46.5 99.7,46.5 102.7,46.5 105.8,46.5 109,46.5 112.3,46.5 115.6,46.5 119,46.5 122.6,46.5 126.1,46.5 129.8,46.5 133.5,46.5 137.3,46.5 141.1,46.5 142.2,45.7 145.1,47.3 148.3,47.9 151.6,48.6 154.2,47.9 157.5,49.4 161,50.9 162.3,52.2 165.4,54.4 165.2,57 165,59.6 163.1,61.9 166.7,61.5 170.4,61 172.8,58.9 176,57.9 179.1,56.9 182.4,55.1 186.1,55.1 189.8,55.1 191.3,54.2 192.6,51.3 194.3,49.8 196.5,50 197.4,50.5 197.8,53.5 199.6,55.5M124.5,13.5 119.5,15.7 114.6,18 109.8,20.4 105,23.1 100.3,25.9 100.9,26.4 100,27.7 103,26.7 101.4,29 99.9,30.7 98.5,32.5 99.1,33.2 96.3,35.2M130.3,137.5 130.8,135.7 132.2,132.6 135.9,132.6 136.4,127.5 140.1,127.5 142.9,125.4M140.1,127.5 139.4,133.3 142.3,133.9M139.4,133.3 139.1,137.8 136.3,140M139.1,137.8 142.6,139.3 143.4,141.2M144.5,142.4 148.6,139.3 152.6,136.6 157.1,136M149.1,147.9 153.4,148.3 155.2,148.6M158.5,152.6 157.4,157.3M175.1,155.7 173.3,160.1M183.5,125.7 187.7,123.8 191.8,121.9 191.9,126.9M190.6,145.8 189.7,147.9 188.5,150.1 187.3,153.8 189.2,157.6 190.1,159.5 194.5,160.8 197.3,161 199.5,163.5 204.5,163.2 205.8,165.4 204.6,168.5 206.1,172.3 204.6,173.9 206.5,175.8 207.4,178.9M207.4,178.9 203.4,179.1 199.3,179.2 197.7,180.8 199.3,183.3 198,185.9 198,190.9 198,195.9M198,195.9 195.5,194.7 191.4,190.3 186.7,186.8 181.4,183M181.4,183 177.3,181.8 174.1,180.2 170,178.3M181.4,183 180.4,187.4 177,190.9 172.6,193.7 170.4,197.2 167.9,196.9 165,193.4M228.2,156 226.2,159.1 226.6,161.3 224.2,164.1 226.4,166.3M226.4,166.3 223.2,168.2 220.1,170.1 213.9,169.8 216.4,174.8 212.1,179.9 207.4,178.9M226.4,166.3 229.2,169.2 230.2,173.3 229.3,176.7 233.3,178.6 239.2,176.7M239.2,176.7 237.1,171.7 237.3,167.9 237.5,164.1M239.2,176.7 243.7,174.8 246.6,175.5M246.6,175.5 245.1,170.1 246.4,164.8M246.6,175.5 251,175.1 253.5,169.5M198,195.9 193.3,197.5 188.6,199.1 187.6,202.7 186.7,206.3 185.1,206.3 189.8,212.5 195.7,212.5 195.9,217.1 198.7,217.1M198.7,217.1 201.3,221.8 200.3,227.9 199,230.9 199.5,234 198.2,236.4 195.7,239.7M198.7,217.1 203.6,216.2 209.8,213.4 211.9,216.8 215.6,221.8 220.1,223.3 224.5,224.8 226.2,229.4 231.5,233.4 232.3,237 231.7,240.4 231.1,243.8M231.1,243.8 228.7,242.4 224.9,242.8 221.1,243.2 219,247.4 217.4,250.3M217.4,250.3 212.4,251.2 207.6,249.7 204.6,252.4M204.6,252.4 201.9,248.3 201.3,244.9 200.7,241.5 198.2,236.4M204.6,252.4 200.6,257.6 200.5,261.1 200.5,264.6 196.9,268.8 195.6,274.3 195.2,277.7 194.9,281 194.2,284.3 193.5,287.5 192.7,290.7 191.9,293.8 190.9,296.9 189.9,299.9 189.6,304.1 189.2,308.1 189.4,310.9 189.6,313.6 187.4,317.9 185.6,321 187.9,324.4 190.7,324.8 193.6,325.3M194.2,326.1 193.9,328.3 193.6,330.4M231.1,243.8 231.1,247.2 231.2,250.6 234.2,250.9 237.2,251.2 237.4,255.8 240.3,256.1 238.7,260.7M217.4,250.3 222,254.7 225.3,256.8 228.5,259 229.2,262.4 229.9,265.8 235,265.8 238.7,260.7M238.7,260.7 240.1,264.9 237,266.9 233.9,268.8 228.7,273.5M228.7,273.5 226.5,278.4 224.8,283.6M228.7,273.5 232.5,275.1 235,279 237.3,282.8M323.1,78.9 325.3,81.8 328,85.5 327.9,86.8 327.7,88.1 328.7,90 328.9,92.5 328,94.2 327,96 328.9,99.9M328.3,98.8 326.6,98.8 324.8,98.8 322.8,98.8M328.9,99.9 330.7,103.9 328.7,103.7 326.6,103.6 328.1,107.1 329.5,110.7 328.8,112.8 330.5,117.1 327.6,117 324.5,116.8M328.9,99.9 332.5,103.1 335.9,106.4M335.9,106.4 337.9,111.4 339.7,116.4 341.3,121.4 342.8,126.6 344.2,131.7 342.2,132.6 340,133.6 337.7,134.5 337.2,136.6 334.8,135.2 332.4,133.8 329.8,132.3M335.9,106.4 339.4,110.2 342.7,114.1 345.6,118 347.6,120.7 349.5,123.3 350.1,122.7 349.6,119.7 349,116.7 348.3,113.7 347.3,110.7 345.9,107.8 345.3,107 342.8,102.2 341.1,98.7 339.2,95.2 337.1,91.6 334.7,88 332.3,84.4 330.1,81.1 328,77.9 325.4,74.3M337.1,91.6 335.2,88.1 332.9,84.1M348.2,112.2 348.6,113.3 348,112 347.3,110.7M337.2,136.6 339.1,140.9 338.8,143.9 341.4,145.5 344.3,147.3 345.3,150.7 347.6,150.7 348.3,150.1 348.1,147 347.9,141.5 348.5,139.5 349.1,137.5 350,136.9 350.8,136.3 351.7,135.2 352.4,134.2 351.7,130.2 350.6,126.8 349.5,123.3M350.8,136.3 352.7,141.2 353.8,143.3 355.3,146.1 354.3,140.6 355,140.4 355.5,140.3 356.7,141.8 357,141.3 357.2,140.9 357.3,140.3 357.8,141.8 357.9,142.4M357.8,141.8 356.9,138.1 355.7,133.6 354.4,129.1M360.5,156 360,152.9 359.9,152.3M358.9,146.7 357.9,142.4M362.4,175.7 361.6,175.5M361.3,162.3 361.7,165.4 362,168.9M362,196.4 361.8,197.7 361.5,199.1M362.4,175.8 362.5,180 362.5,184.3 362.2,190.6 361.7,195M362,175.8 362.1,179.5M360.8,168.5 360.5,162.3 360.7,160.7 360.3,156 359.6,151.4 358.9,146.9 357.9,142.4M357.3,162.6 356.8,158.5 356.3,154.5 356.1,150.4 355.3,146.1M356.6,163.2 356,158.8 355.4,154.5 353.8,148.3 353.8,143.3M356.3,163.5 355,157.6 354.2,152.9 353.1,148.3 352,148.3 350.7,148.3 351.5,152.6 352.2,157.6 352.6,162.1 352.9,166.7M351.5,152.6 349.9,151.4 348.3,150.1M348.3,168.9 347.5,165.6 346.7,162.3 346.5,159.1 346,158.5 345.1,159.1 343.4,156.3 342.4,161M339,154.5 339.9,151.7 341.5,151.4 343.4,156.3M346,158.5 345.7,154.6 345.3,150.7M335.5,148.6 336.9,145.2 338.8,143.9M332,143.9 334.3,143.6 336.5,143.3M354.1,236.1 354.6,235.5M304.8,62.2 305.1,61.7 307.4,62.6 309.7,66 312.1,69.1 314.1,72.6 314.9,73.6M307.5,58.7 310.1,60.3 311.2,60.5 312.5,61M292.7,42.2 296,44.4 297.7,45.4 298.7,46 299.6,46.5 302.7,49.4 305.4,52.4 306.4,53.1 309.4,56.2 311.2,57.8M288.8,38 292,40.5 294.2,42.4 296,43.8 297.7,45.4M292.3,41.6 292.9,41.6 294.2,42.4M285.1,35 285.6,35.2M288.3,36.9 291.9,39.5 295.6,42.4M295.6,42.4 296.4,43.1 297.1,43.8 300.9,46.9 303.9,49.6 303.2,49.5 302.7,49.4M306.4,53.1 306.7,52.9 305.9,51.8 303.9,50M305.2,51.1 305,50.7 306.2,51.8 308,53.5M300.9,46.9 300.4,46.5M274.8,28 269.4,24.8 265.9,23 262.4,21.2 259.7,19.8 256.8,18.5 255.1,17.6" fill="none" stroke="#000" stroke-width="1.0" stroke-linejoin="round"/>
<path d="M284.3,70.1a0.9,0.9 0 1,0 1.8,0a0.9,0.9 0 1,0 -1.8,0M289.6,72.1a0.9,0.9 0 1,0 1.8,0a0.9,0.9 0 1,0 -1.8,0M277.5,67.9a0.9,0.9 0 1,0 1.8,0a0.9,0.9 0 1,0 -1.8,0M285.5,69.8a0.9,0.9 0 1,0 1.8,0a0.9,0.9 0 1,0 -1.8,0M309.9,85.2a0.9,0.9 0 1,0 1.8,0a0.9,0.9 0 1,0 -1.8,0M318.4,98.0a0.9,0.9 0 1,0 1.8,0a0.9,0.9 0 1,0 -1.8,0M319.7,95.7a0.9,0.9 0 1,0 1.8,0a0.9,0.9 0 1,0 -1.8,0M314.9,96.6a0.9,0.9 0 1,0 1.8,0a0.9,0.9 0 1,0 -1.8,0M316.7,97.4a0.9,0.9 0 1,0 1.8,0a0.9,0.9 0 1,0 -1.8,0M315.9,132.9a0.9,0.9 0 1,0 1.8,0a0.9,0.9 0 1,0 -1.8,0M317.5,136.0a0.9,0.9 0 1,0 1.8,0a0.9,0.9 0 1,0 -1.8,0M313.3,129.9a0.9,0.9 0 1,0 1.8,0a0.9,0.9 0 1,0 -1.8,0M317.6,131.1a0.9,0.9 0 1,0 1.8,0a0.9,0.9 0 1,0 -1.8,0M208.1,86.2a0.9,0.9 0 1,0 1.8,0a0.9,0.9 0 1,0 -1.8,0M178.2,107.8a0.9,0.9 0 1,0 1.8,0a0.9,0.9 0 1,0 -1.8,0M181.1,110.7a0.9,0.9 0 1,0 1.8,0a0.9,0.9 0 1,0 -1.8,0M185.5,117.4a0.9,0.9 0 1,0 1.8,0a0.9,0.9 0 1,0 -1.8,0M189.3,115.7a0.9,0.9 0 1,0 1.8,0a0.9,0.9 0 1,0 -1.8,0M182.6,113.6a0.9,0.9 0 1,0 1.8,0a0.9,0.9 0 1,0 -1.8,0M221.6,132.3a0.9,0.9 0 1,0 1.8,0a0.9,0.9 0 1,0 -1.8,0M223.4,137.2a0.9,0.9 0 1,0 1.8,0a0.9,0.9 0 1,0 -1.8,0M223.0,141.5a0.9,0.9 0 1,0 1.8,0a0.9,0.9 0 1,0 -1.8,0M221.7,144.9a0.9,0.9 0 1,0 1.8,0a0.9,0.9 0 1,0 -1.8,0M217.5,129.0a0.9,0.9 0 1,0 1.8,0a0.9,0.9 0 1,0 -1.8,0M216.2,126.3a0.9,0.9 0 1,0 1.8,0a0.9,0.9 0 1,0 -1.8,0M212.0,126.0a0.9,0.9 0 1,0 1.8,0a0.9,0.9 0 1,0 -1.8,0M223.5,139.3a0.9,0.9 0 1,0 1.8,0a0.9,0.9 0 1,0 -1.8,0M199.5,144.6a0.9,0.9 0 1,0 1.8,0a0.9,0.9 0 1,0 -1.8,0M201.7,144.6a0.9,0.9 0 1,0 1.8,0a0.9,0.9 0 1,0 -1.8,0M196.5,143.6a0.9,0.9 0 1,0 1.8,0a0.9,0.9 0 1,0 -1.8,0M171.1,282.6a0.9,0.9 0 1,0 1.8,0a0.9,0.9 0 1,0 -1.8,0M303.0,194.7a0.9,0.9 0 1,0 1.8,0a0.9,0.9 0 1,0 -1.8,0M253.7,334.9a0.9,0.9 0 1,0 1.8,0a0.9,0.9 0 1,0 -1.8,0M252.2,336.4a0.9,0.9 0 1,0 1.8,0a0.9,0.9 0 1,0 -1.8,0M343.5,232.1a0.9,0.9 0 1,0 1.8,0a0.9,0.9 0 1,0 -1.8,0M336.9,207.5a0.9,0.9 0 1,0 1.8,0a0.9,0.9 0 1,0 -1.8,0M90.3,264.9a0.9,0.9 0 1,0 1.8,0a0.9,0.9 0 1,0 -1.8,0M47.0,259.3a0.9,0.9 0 1,0 1.8,0a0.9,0.9 0 1,0 -1.8,0M15.3,237.3a0.9,0.9 0 1,0 1.8,0a0.9,0.9 0 1,0 -1.8,0M18.1,232.5a0.9,0.9 0 1,0 1.8,0a0.9,0.9 0 1,0 -1.8,0M22.2,235.5a0.9,0.9 0 1,0 1.8,0a0.9,0.9 0 1,0 -1.8,0M25.5,238.5a0.9,0.9 0 1,0 1.8,0a0.9,0.9 0 1,0 -1.8,0M16.2,229.4a0.9,0.9 0 1,0 1.8,0a0.9,0.9 0 1,0 -1.8,0M14.4,227.9a0.9,0.9 0 1,0 1.8,0a0.9,0.9 0 1,0 -1.8,0M19.5,234.0a0.9,0.9 0 1,0 1.8,0a0.9,0.9 0 1,0 -1.8,0M21.8,229.4a0.9,0.9 0 1,0 1.8,0a0.9,0.9 0 1,0 -1.8,0M20.2,210.9a0.9,0.9 0 1,0 1.8,0a0.9,0.9 0 1,0 -1.8,0M19.3,210.6a0.9,0.9 0 1,0 1.8,0a0.9,0.9 0 1,0 -1.8,0M12.8,234.0a0.9,0.9 0 1,0 1.8,0a0.9,0.9 0 1,0 -1.8,0M12.6,234.6a0.9,0.9 0 1,0 1.8,0a0.9,0.9 0 1,0 -1.8,0M30.4,248.9a0.9,0.9 0 1,0 1.8,0a0.9,0.9 0 1,0 -1.8,0M38.0,253.5a0.9,0.9 0 1,0 1.8,0a0.9,0.9 0 1,0 -1.8,0M14.3,117.1a0.9,0.9 0 1,0 1.8,0a0.9,0.9 0 1,0 -1.8,0M13.4,122.2a0.9,0.9 0 1,0 1.8,0a0.9,0.9 0 1,0 -1.8,0M14.3,118.6a0.9,0.9 0 1,0 1.8,0a0.9,0.9 0 1,0 -1.8,0M14.5,115.1a0.9,0.9 0 1,0 1.8,0a0.9,0.9 0 1,0 -1.8,0M80.9,124.5a0.9,0.9 0 1,0 1.8,0a0.9,0.9 0 1,0 -1.8,0M81.3,150.4a0.9,0.9 0 1,0 1.8,0a0.9,0.9 0 1,0 -1.8,0M143.7,165.4a0.9,0.9 0 1,0 1.8,0a0.9,0.9 0 1,0 -1.8,0M165.9,282.8a0.9,0.9 0 1,0 1.8,0a0.9,0.9 0 1,0 -1.8,0M168.5,185.9a0.9,0.9 0 1,0 1.8,0a0.9,0.9 0 1,0 -1.8,0M359.7,181.8a0.9,0.9 0 1,0 1.8,0a0.9,0.9 0 1,0 -1.8,0M359.9,177.7a0.9,0.9 0 1,0 1.8,0a0.9,0.9 0 1,0 -1.8,0M359.1,187.1a0.9,0.9 0 1,0 1.8,0a0.9,0.9 0 1,0 -1.8,0M284.0,329.5a0.9,0.9 0 1,0 1.8,0a0.9,0.9 0 1,0 -1.8,0M309.0,291.6a0.9,0.9 0 1,0 1.8,0a0.9,0.9 0 1,0 -1.8,0M306.0,299.4a0.9,0.9 0 1,0 1.8,0a0.9,0.9 0 1,0 -1.8,0M269.5,28.0a0.9,0.9 0 1,0 1.8,0a0.9,0.9 0 1,0 -1.8,0M343.5,232.1a0.9,0.9 0 1,0 1.8,0a0.9,0.9 0 1,0 -1.8,0M336.9,207.5a0.9,0.9 0 1,0 1.8,0a0.9,0.9 0 1,0 -1.8,0" fill="#111"/>
<use href="#antL" fill="#ffffff"/>
<g fill="none" stroke="#000" stroke-width="1.3" stroke-linejoin="round"><use href="#coastL"/><use href="#antL"/></g>
<clipPath id="thickL"><rect x="80" y="0" width="160" height="30"/><rect x="84" y="25" width="18" height="50"/><rect x="178" y="298" width="24" height="38"/><rect x="168" y="336" width="54" height="28"/><rect x="318" y="40" width="22" height="20"/></clipPath>
<g fill="none" stroke="#000" stroke-width="2.1" stroke-linejoin="round" clip-path="url(#thickL)"><use href="#coastL"/><use href="#antL"/></g>
<clipPath id="thickbL"><rect x="120" y="0" width="80" height="22"/><rect x="176" y="305" width="26" height="29"/><rect x="178" y="338" width="36" height="20"/></clipPath>
<g fill="none" stroke="#000" stroke-width="2.8" stroke-linejoin="round" clip-path="url(#thickbL)"><use href="#coastL"/></g>
<path d="M91.7,339 92.6,339 93.7,339 94.4,339 95.2,339 96.2,339 97.2,339 98.3,339 99.6,339 100.9,339 102.3,339 103.8,339 105.5,339 107.2,339 109,339 110.9,339 112.9,339 114.9,339 117.1,339 119.3,339 121.6,339 124,339 126.4,339 129,339 131.5,339 134.2,339 136.9,339 139.6,339 142.4,339 145.3,339 148.2,339 151.1,339 154.1,339 157.1,339 160.2,339 163.2,339 166.3,339 169.4,339 172.6,339 175.7,339 178.9,339 182,339 185.1,339 188.3,339 191.4,339 194.6,339 197.7,339 200.8,339 203.8,339 206.9,339 209.9,339 212.9,339 215.8,339 218.7,339 221.6,339 224.4,339 227.1,339 229.8,339 232.5,339 235,339 237.6,339 240,339 242.4,339 244.7,339 246.9,339 249.1,339 251.1,339 253.1,339 255,339 256.8,339 258.5,339 260.2,339 261.7,339 263.1,339 264.4,339 265.7,339 266.8,339 267.8,339 268.8,339 269.6,339 270.3,339 270.9,339 271.8,339M25.7,272.9 26.5,272.9 27.2,272.9 28.1,272.9 29.1,272.9 30.3,272.9 31.7,272.9 33.3,272.9 35.1,272.9 37.1,272.9 39.2,272.9 41.5,272.9 44,272.9 46.6,272.9 49.4,272.9 52.4,272.9 55.5,272.9 58.8,272.9 62.3,272.9 65.8,272.9 69.6,272.9 73.4,272.9 77.4,272.9 81.5,272.9 85.8,272.9 90.1,272.9 94.6,272.9 99.2,272.9 103.8,272.9 108.6,272.9 113.5,272.9 118.4,272.9 123.4,272.9 128.5,272.9 133.7,272.9 138.9,272.9 144.2,272.9 149.5,272.9 154.9,272.9 160.2,272.9 165.7,272.9 171.1,272.9 176.5,272.9 182,272.9 187.5,272.9 192.9,272.9 198.3,272.9 203.8,272.9 209.1,272.9 214.5,272.9 219.8,272.9 225.1,272.9 230.3,272.9 235.5,272.9 240.6,272.9 245.6,272.9 250.5,272.9 255.4,272.9 260.2,272.9 264.8,272.9 269.4,272.9 273.9,272.9 278.2,272.9 282.5,272.9 286.6,272.9 290.6,272.9 294.4,272.9 298.2,272.9 301.7,272.9 305.2,272.9 308.5,272.9 311.6,272.9 314.6,272.9 317.4,272.9 320,272.9 322.5,272.9 324.8,272.9 326.9,272.9 328.9,272.9 330.7,272.9 332.3,272.9 333.7,272.9 334.9,272.9 335.9,272.9 336.8,272.9 337.5,272.9 338.2,272.9M1.5,182.7 2.5,182.7 3.3,182.7 4.2,182.7 5.4,182.7 6.9,182.7 8.5,182.7 10.3,182.7 12.4,182.7 14.6,182.7 17.1,182.7 19.8,182.7 22.6,182.7 25.7,182.7 28.9,182.7 32.4,182.7 36,182.7 39.8,182.7 43.7,182.7 47.9,182.7 52.2,182.7 56.6,182.7 61.2,182.7 66,182.7 70.9,182.7 75.9,182.7 81.1,182.7 86.3,182.7 91.8,182.7 97.3,182.7 102.9,182.7 108.6,182.7 114.4,182.7 120.3,182.7 126.2,182.7 132.2,182.7 138.3,182.7 144.5,182.7 150.7,182.7 156.9,182.7 163.1,182.7 169.4,182.7 175.7,182.7 182,182.7 188.3,182.7 194.6,182.7 200.9,182.7 207.1,182.7 213.3,182.7 219.5,182.7 225.7,182.7 231.8,182.7 237.8,182.7 243.7,182.7 249.6,182.7 255.4,182.7 261.1,182.7 266.7,182.7 272.2,182.7 277.7,182.7 282.9,182.7 288.1,182.7 293.1,182.7 298,182.7 302.8,182.7 307.4,182.7 311.8,182.7 316.1,182.7 320.3,182.7 324.2,182.7 328,182.7 331.6,182.7 335.1,182.7 338.3,182.7 341.4,182.7 344.2,182.7 346.9,182.7 349.4,182.7 351.6,182.7 353.7,182.7 355.5,182.7 357.1,182.7 358.6,182.7 359.8,182.7 360.7,182.7 361.5,182.7 362.1,182.7M25.7,92.5 26.5,92.5 27.2,92.5 28.1,92.5 29.1,92.5 30.3,92.5 31.7,92.5 33.3,92.5 35.1,92.5 37.1,92.5 39.2,92.5 41.5,92.5 44,92.5 46.6,92.5 49.4,92.5 52.4,92.5 55.5,92.5 58.8,92.5 62.3,92.5 65.8,92.5 69.6,92.5 73.4,92.5 77.4,92.5 81.5,92.5 85.8,92.5 90.1,92.5 94.6,92.5 99.2,92.5 103.8,92.5 108.6,92.5 113.5,92.5 118.4,92.5 123.4,92.5 128.5,92.5 133.7,92.5 138.9,92.5 144.2,92.5 149.5,92.5 154.9,92.5 160.2,92.5 165.7,92.5 171.1,92.5 176.5,92.5 182,92.5 187.5,92.5 192.9,92.5 198.3,92.5 203.8,92.5 209.1,92.5 214.5,92.5 219.8,92.5 225.1,92.5 230.3,92.5 235.5,92.5 240.6,92.5 245.6,92.5 250.5,92.5 255.4,92.5 260.2,92.5 264.8,92.5 269.4,92.5 273.9,92.5 278.2,92.5 282.5,92.5 286.6,92.5 290.6,92.5 294.4,92.5 298.2,92.5 301.7,92.5 305.2,92.5 308.5,92.5 311.6,92.5 314.6,92.5 317.4,92.5 320,92.5 322.5,92.5 324.8,92.5 326.9,92.5 328.9,92.5 330.7,92.5 332.3,92.5 333.7,92.5 334.9,92.5 335.9,92.5 336.8,92.5 337.5,92.5 338.2,92.5M91.7,26.4 92.6,26.4 93.7,26.4 94.4,26.4 95.2,26.4 96.2,26.4 97.2,26.4 98.3,26.4 99.6,26.4 100.9,26.4 102.3,26.4 103.8,26.4 105.5,26.4 107.2,26.4 109,26.4 110.9,26.4 112.9,26.4 114.9,26.4 117.1,26.4 119.3,26.4 121.6,26.4 124,26.4 126.4,26.4 129,26.4 131.5,26.4 134.2,26.4 136.9,26.4 139.6,26.4 142.4,26.4 145.3,26.4 148.2,26.4 151.1,26.4 154.1,26.4 157.1,26.4 160.2,26.4 163.2,26.4 166.3,26.4 169.4,26.4 172.6,26.4 175.7,26.4 178.9,26.4 182,26.4 185.1,26.4 188.3,26.4 191.4,26.4 194.6,26.4 197.7,26.4 200.8,26.4 203.8,26.4 206.9,26.4 209.9,26.4 212.9,26.4 215.8,26.4 218.7,26.4 221.6,26.4 224.4,26.4 227.1,26.4 229.8,26.4 232.5,26.4 235,26.4 237.6,26.4 240,26.4 242.4,26.4 244.7,26.4 246.9,26.4 249.1,26.4 251.1,26.4 253.1,26.4 255,26.4 256.8,26.4 258.5,26.4 260.2,26.4 261.7,26.4 263.1,26.4 264.4,26.4 265.7,26.4 266.8,26.4 267.8,26.4 268.8,26.4 269.6,26.4 270.3,26.4 270.9,26.4 271.8,26.4M182,363.2 175.9,363.1 169.8,362.8 163.8,362.2 157.7,361.4 151.7,360.5 145.8,359.3 139.8,357.8 133.9,356.2 128.1,354.4 122.4,352.3 116.7,350.1 111.1,347.6 105.6,344.9 100.1,342.1 94.8,339 89.6,335.8 84.5,332.3 79.5,328.7 74.7,324.9 69.9,321 65.3,316.8 60.9,312.5 56.6,308.1 52.4,303.5 48.4,298.7 44.6,293.8 40.9,288.8 37.5,283.6 34.1,278.4 31,272.9 28.1,267.4 25.3,261.8 22.7,256.1 20.3,250.3 18.2,244.4 16.2,238.5 14.4,232.5 12.8,226.4 11.5,220.2 10.3,214 9.3,207.8 8.6,201.6 8.1,195.3 7.8,189 7.7,182.7 7.8,176.4 8.1,170.1 8.6,163.8 9.3,157.6 10.3,151.4 11.5,145.2 12.8,139 14.4,132.9 16.2,126.9 18.2,121 20.3,115.1 22.7,109.3 25.3,103.6 28.1,98 31,92.5 34.1,87 37.5,81.8 40.9,76.6 44.6,71.6 48.4,66.7 52.4,61.9 56.6,57.3 60.9,52.9 65.3,48.6 69.9,44.4 74.7,40.5 79.5,36.7 84.5,33.1 89.6,29.6 94.8,26.4 100.1,23.3 105.6,20.5 111.1,17.8 116.7,15.3 122.4,13.1 128.1,11 133.9,9.2 139.8,7.6 145.8,6.1 151.7,4.9 157.7,4 163.8,3.2 169.8,2.6 175.9,2.3 182,2.2M182,363.2 177.5,363.1 173.1,362.8 168.7,362.2 164.2,361.4 159.8,360.5 155.5,359.3 151.1,357.8 146.8,356.2 142.6,354.4 138.3,352.3 134.2,350.1 130.1,347.6 126,344.9 122.1,342.1 118.2,339 114.4,335.8 110.6,332.3 107,328.7 103.4,324.9 100,321 96.6,316.8 93.3,312.5 90.2,308.1 87.2,303.5 84.2,298.7 81.4,293.8 78.7,288.8 76.2,283.6 73.8,278.4 71.5,272.9 69.3,267.4 67.3,261.8 65.4,256.1 63.7,250.3 62.1,244.4 60.6,238.5 59.3,232.5 58.2,226.4 57.2,220.2 56.3,214 55.6,207.8 55.1,201.6 54.7,195.3 54.4,189 54.4,182.7 54.4,176.4 54.7,170.1 55.1,163.8 55.6,157.6 56.3,151.4 57.2,145.2 58.2,139 59.3,132.9 60.6,126.9 62.1,121 63.7,115.1 65.4,109.3 67.3,103.6 69.3,98 71.5,92.5 73.8,87 76.2,81.8 78.7,76.6 81.4,71.6 84.2,66.7 87.2,61.9 90.2,57.3 93.3,52.9 96.6,48.6 100,44.4 103.4,40.5 107,36.7 110.6,33.1 114.4,29.6 118.2,26.4 122.1,23.3 126,20.5 130.1,17.8 134.2,15.3 138.3,13.1 142.6,11 146.8,9.2 151.1,7.6 155.5,6.1 159.8,4.9 164.2,4 168.7,3.2 173.1,2.6 177.5,2.3 182,2.2M182,363.2 180.4,363.1 178.7,362.8 177.1,362.2 175.5,361.4 173.9,360.5 172.3,359.3 170.7,357.8 169.1,356.2 167.6,354.4 166,352.3 164.5,350.1 163,347.6 161.5,344.9 160.1,342.1 158.6,339 157.2,335.8 155.9,332.3 154.5,328.7 153.2,324.9 152,321 150.7,316.8 149.5,312.5 148.4,308.1 147.3,303.5 146.2,298.7 145.2,293.8 144.2,288.8 143.3,283.6 142.4,278.4 141.5,272.9 140.8,267.4 140,261.8 139.3,256.1 138.7,250.3 138.1,244.4 137.6,238.5 137.1,232.5 136.7,226.4 136.3,220.2 136,214 135.7,207.8 135.5,201.6 135.4,195.3 135.3,189 135.3,182.7 135.3,176.4 135.4,170.1 135.5,163.8 135.7,157.6 136,151.4 136.3,145.2 136.7,139 137.1,132.9 137.6,126.9 138.1,121 138.7,115.1 139.3,109.3 140,103.6 140.8,98 141.5,92.5 142.4,87 143.3,81.8 144.2,76.6 145.2,71.6 146.2,66.7 147.3,61.9 148.4,57.3 149.5,52.9 150.7,48.6 152,44.4 153.2,40.5 154.5,36.7 155.9,33.1 157.2,29.6 158.6,26.4 160.1,23.3 161.5,20.5 163,17.8 164.5,15.3 166,13.1 167.6,11 169.1,9.2 170.7,7.6 172.3,6.1 173.9,4.9 175.5,4 177.1,3.2 178.7,2.6 180.4,2.3 182,2.2M182,363.2 183.6,363.1 185.3,362.8 186.9,362.2 188.5,361.4 190.1,360.5 191.7,359.3 193.3,357.8 194.9,356.2 196.4,354.4 198,352.3 199.5,350.1 201,347.6 202.5,344.9 203.9,342.1 205.4,339 206.8,335.8 208.1,332.3 209.5,328.7 210.8,324.9 212,321 213.3,316.8 214.5,312.5 215.6,308.1 216.7,303.5 217.8,298.7 218.8,293.8 219.8,288.8 220.7,283.6 221.6,278.4 222.5,272.9 223.2,267.4 224,261.8 224.7,256.1 225.3,250.3 225.9,244.4 226.4,238.5 226.9,232.5 227.3,226.4 227.7,220.2 228,214 228.3,207.8 228.5,201.6 228.6,195.3 228.7,189 228.7,182.7 228.7,176.4 228.6,170.1 228.5,163.8 228.3,157.6 228,151.4 227.7,145.2 227.3,139 226.9,132.9 226.4,126.9 225.9,121 225.3,115.1 224.7,109.3 224,103.6 223.2,98 222.5,92.5 221.6,87 220.7,81.8 219.8,76.6 218.8,71.6 217.8,66.7 216.7,61.9 215.6,57.3 214.5,52.9 213.3,48.6 212,44.4 210.8,40.5 209.5,36.7 208.1,33.1 206.8,29.6 205.4,26.4 203.9,23.3 202.5,20.5 201,17.8 199.5,15.3 198,13.1 196.4,11 194.9,9.2 193.3,7.6 191.7,6.1 190.1,4.9 188.5,4 186.9,3.2 185.3,2.6 183.6,2.3 182,2.2M182,363.2 186.5,363.1 190.9,362.8 195.3,362.2 199.8,361.4 204.2,360.5 208.5,359.3 212.9,357.8 217.2,356.2 221.4,354.4 225.7,352.3 229.8,350.1 233.9,347.6 238,344.9 241.9,342.1 245.8,339 249.6,335.8 253.4,332.3 257,328.7 260.6,324.9 264,321 267.4,316.8 270.7,312.5 273.8,308.1 276.8,303.5 279.8,298.7 282.6,293.8 285.3,288.8 287.8,283.6 290.2,278.4 292.5,272.9 294.7,267.4 296.7,261.8 298.6,256.1 300.3,250.3 301.9,244.4 303.4,238.5 304.7,232.5 305.8,226.4 306.8,220.2 307.7,214 308.4,207.8 308.9,201.6 309.3,195.3 309.6,189 309.6,182.7 309.6,176.4 309.3,170.1 308.9,163.8 308.4,157.6 307.7,151.4 306.8,145.2 305.8,139 304.7,132.9 303.4,126.9 301.9,121 300.3,115.1 298.6,109.3 296.7,103.6 294.7,98 292.5,92.5 290.2,87 287.8,81.8 285.3,76.6 282.6,71.6 279.8,66.7 276.8,61.9 273.8,57.3 270.7,52.9 267.4,48.6 264,44.4 260.6,40.5 257,36.7 253.4,33.1 249.6,29.6 245.8,26.4 241.9,23.3 238,20.5 233.9,17.8 229.8,15.3 225.7,13.1 221.4,11 217.2,9.2 212.9,7.6 208.5,6.1 204.2,4.9 199.8,4 195.3,3.2 190.9,2.6 186.5,2.3 182,2.2M182,363.2 188.1,363.1 194.2,362.8 200.2,362.2 206.3,361.4 212.3,360.5 218.2,359.3 224.2,357.8 230.1,356.2 235.9,354.4 241.6,352.3 247.3,350.1 252.9,347.6 258.4,344.9 263.9,342.1 269.2,339 274.4,335.8 279.5,332.3 284.5,328.7 289.3,324.9 294.1,321 298.7,316.8 303.1,312.5 307.4,308.1 311.6,303.5 315.6,298.7 319.4,293.8 323.1,288.8 326.5,283.6 329.9,278.4 333,272.9 335.9,267.4 338.7,261.8 341.3,256.1 343.7,250.3 345.8,244.4 347.8,238.5 349.6,232.5 351.2,226.4 352.5,220.2 353.7,214 354.7,207.8 355.4,201.6 355.9,195.3 356.2,189 356.3,182.7 356.2,176.4 355.9,170.1 355.4,163.8 354.7,157.6 353.7,151.4 352.5,145.2 351.2,139 349.6,132.9 347.8,126.9 345.8,121 343.7,115.1 341.3,109.3 338.7,103.6 335.9,98 333,92.5 329.9,87 326.5,81.8 323.1,76.6 319.4,71.6 315.6,66.7 311.6,61.9 307.4,57.3 303.1,52.9 298.7,48.6 294.1,44.4 289.3,40.5 284.5,36.7 279.5,33.1 274.4,29.6 269.2,26.4 263.9,23.3 258.4,20.5 252.9,17.8 247.3,15.3 241.6,13.1 235.9,11 230.1,9.2 224.2,7.6 218.2,6.1 212.3,4.9 206.3,4 200.2,3.2 194.2,2.6 188.1,2.3 182,2.2" fill="none" stroke="#6a6a6a" stroke-width="0.65"/>
</g>
<circle cx="182.0" cy="182.7" r="180.5" fill="none" stroke="#000" stroke-width="0.9"/>
<clipPath id="clipR"><circle cx="594.8" cy="182.7" r="180.5"/></clipPath>
<circle cx="594.8" cy="182.7" r="180.5" fill="#eaeffa"/>
<g clip-path="url(#clipR)">
<defs><path id="coastR" d="M414.6,193.1 415.1,197.8 415.6,199.1 416,202.4 416.5,205.6 417.1,210.9 417.7,216.2 418.3,219.5 418.9,222.7 420.1,227.9 421.3,232.5 422.7,237 424.7,243 425.2,244.4 423.3,238.9 421.5,233.3 420,227.6 418.6,221.9 417.4,216.1 416.4,210.3 415.6,204.5 415,198.6 414.6,192.8ZM488.8,328.7 489.5,329.1 490.8,330 490.1,329.6 488.8,328.7ZM632.5,320.2 632.8,318.9 636.1,319.3 634.3,320.4 632.5,320.2ZM575.2,248.9 578.2,243 577.5,239.2 576.8,235.5 580.5,233.5 584.2,231.5 586.4,228.2 588.7,224.8 592.6,220.2 594.5,225.6 596.3,230.9 594.2,235.5 592.3,240.7 590.4,245.9 588.5,251.8 586.8,257.6 581.2,260.4 576.6,254.7 575.2,248.9ZM563.3,234 559.4,236.2 555.6,238.5 550.9,244.4 552.9,250.3 552.6,254 552.3,257.6 549.7,259.7 547.1,261.8 546.5,265.8 545.9,269.7 543.9,273.1 542.1,276.5 539.5,279 537,281.5 533,283.6 529.3,283.6 525.7,283.6 523.2,284.7 520.7,285.7 516.5,283.9 514.6,279.7 510.9,274.4 507.3,269.1 503,264.6 501.3,260.4 499.6,256.1 498,251.8 494.8,247.4 491.7,243 488.6,238.5 488.2,234.7 487.7,230.9 488.8,224.8 490.1,218.7 488.9,214 487.9,209.4 485.9,203.9 484.1,198.4 481.4,193.7 478.9,189.8 476.4,185.9 477.6,179.5 477.9,175.6 478.3,171.7 475.6,168.5 472.6,168.9 469.8,169.2 467.8,165.4 463.6,162.6 459.3,163.8 456.1,165.7 453.1,167.6 449.4,166.3 446.1,167.6 443,168.9 440,165.4 437.4,160.7 435.7,154.5 434.6,149.8 433.8,146.7 432.8,143.6 433.1,140.3 433.5,136.9 434.5,136 436,131.4 437.6,126.9 438.7,121 440.4,116.5 443.4,111.4 446.5,106.4 449.3,102.9 452.1,99.4 455.7,96.6 459.4,93.8 461.1,89.7 465.1,85.5 469.2,81.2 473.4,77.1 474.6,76.9 476.2,77.9 478,78.9 480.6,77.9 484.8,76.2 489.1,74.6 492.1,74.5 495.1,74.4 498.2,74.3 502.1,73.3 504.1,74.1 501.3,77.9 500.1,83.1 503.6,84.7 505.9,85.6 508.3,86.5 511.7,89.7 515.9,91.1 518.3,87 521.5,86 524.7,84.9 527.2,86.5 529.8,88.1 533.3,89.1 536.8,90 542.1,88.9 545,88.9 547.9,88.9 548,92.3 552.8,88.9 555.3,84.9 557.6,80.5 559.2,76.6 559.9,74.3 556.1,74.8 550.9,76.4 546.4,75.3 543.5,75 540.7,74.6 538.5,70.3 539,66.7 543.9,64.7 541.2,65.5 539.2,64.8 534.8,65 532,66.7 531.6,65.5 532.2,69.1 532.6,71.1 529.3,72.8 527.4,75.3 526.4,74.3 526.1,72.1 526.5,69.8 525.4,67.4 525.5,64.3 525.2,61 523.3,59.7 521.6,58.5 519.8,55.1 520.2,53.5 517.3,54.2 516,56.9 517.1,58.5 517.2,61.5 519.1,63.3 520.9,64.8 522.8,66.2 520,65.5 517.6,69.1 514.6,71.6 516.9,67.2 515.1,64.8 512.5,63.1 511.1,60.8 511.3,57.3 509.2,56.6 506.8,57.8 503.2,59.4 501.3,58.7 497.9,60.1 496.9,62.2 494.3,63.2 491.7,64.3 487.6,67.9 487.4,69.6 484.1,72.6 480.4,74.8 478.6,75 476.8,75.1 474.3,76.6 474.4,74.3 473.5,73.6 471.4,74.1 474,70.3 473.6,69.6 476.8,66.2 480.2,61.9 481.3,59.6 484.1,58 485.8,58.2 487.5,58.5 489.6,58.6 491.7,58.7 494.8,55.7 497.1,52.9 497.7,50 496.5,48.6 497.4,47.3 499.8,46.9 501.4,47.1 503.7,45 505.3,45.4 508.3,44 511.2,42.2 513.1,41.6 516.4,39.5 518.3,38.2 521.6,37.6 524.2,37 526.3,34.8 528.8,31.7 531.1,30.9 533.4,30.1 530.7,32.7 528,34.8 528,36.7 530.1,36.4 532.1,36.1 533,36.9 536.7,36.1 540.3,35.4 542.4,35.1 544.6,34.8 546.9,31.7 548.9,31.5 550.9,31.3 553.2,29.8 553.3,28 555.7,27.7 558.1,27.4 560.5,27.2 563.9,26.4 562,26 560.1,25.6 556.9,26 553.8,26.4 553.7,24.1 555.7,21.9 559.2,20.5 562.6,19.1 562.9,18.1 561.5,18.1 560.1,18.1 557.1,19.8 552.9,21.6 549.3,23.3 546.9,25.3 547.8,26.7 545.5,28 541.3,30.5 538.4,32.9 534.8,34.1 533.1,33.8 534.2,32.2 535.6,29.6 536.5,28 535.7,28 533.2,28.8 530.8,29.6 528.9,29.1 531,26.4 534.9,23.3 537.9,22.2 540.9,21.2 543.7,20.3 546.4,19.4 551.5,17.2 556.9,14.8 559.3,14.1 561.6,13.4 564.1,13 566.5,12.6 568.7,12.3 570.9,12 572.2,12.6 573.7,13.1 574.9,13.5 576.1,13.9 577.9,14 579.7,14.2 581,14.8 582.5,15.3 584,15.9 582.2,17.5 579.5,17.8 577.8,17.5 576.2,17.2 574,16.8 574.2,18.3 574.4,19.8 576,20.3 577.6,20.7 579.4,20.3 581.3,19.8 584.3,18.8 587.1,17.8 587.5,16.2 587.9,14.8 590.1,15.2 592.4,15.7 594.4,15.4 596.4,15.1 598.3,14.8 600.2,14.6 602,14.5 603.9,14.4 605.8,13.6 607.4,13.4 608.9,13.1 610.5,12.8 611.9,12.6 611.9,11.4 611.7,10.3 612.8,10.1 614.5,10.6 616.1,11 617.9,12.6 619.6,14.2 622.9,15.9 622.1,14.2 619.9,12.8 617.6,11.5 618.5,11.1 619.3,10.7 620.1,10.2 620.8,9.6 621.9,9.5 622.9,9.4 623.8,9.3 624.7,9.2 625.2,8.8 625.4,8.4 625.6,7.9 625.9,7.3 626,6.8 625.9,6.3 627.4,6.5 629,6.8 630.5,7 632,7.2 636.3,8.4 640.7,9.6 641.7,9.7 642.6,9.9 643.5,10 644.4,10.1 645.3,10.2 646.3,10.3 647.1,10.4 647.9,10.6 650.4,11.3 652.8,12 652.5,11.8 652.1,11.6 651.7,11.4 651.1,11.2 650.6,11 656.1,12.9 661.5,15 666.9,17.2 672.2,19.6 677.4,22.2 682.6,25 687.6,27.9 692.6,31 696.1,33.3 699.5,35.8 701.5,37.1 703.4,38.5 708.1,42.2 712.6,46 715.3,48.3 717.9,50.7 721.7,54.5 725.2,58.5 725.4,59 725.5,59.6 725.9,60.8 729.8,65.5 733,70.3 735.7,73.4 738.3,76.6 739.7,79.2 739.4,80.5 737.2,77.2 735,74.1 732.6,72.1 728.4,67.2 726.9,66.3 725.3,65.5 727.8,69.1 724,64.8 725.4,68.6 726.1,70.8 729.4,74.1 730.6,73.7 731.7,73.3 731.9,75 732,76.6 733.3,79.2 736,82.4 738.6,85.7 741.8,89.7 743.7,93 744.7,96.2 745.7,99.4 747.4,105 747.4,109.9 746.6,111.4 745.7,113 744.4,114.5 743.1,115.5 741.7,116.5 741.2,119.5 739.8,116.5 737.1,116.3 735.8,119.5 736,123.9 738.4,128.4 741.9,132.9 743.8,136.7 745.6,140.6 746.6,146.1 745.2,148.9 743.2,150.4 741,155.7 740.4,151.4 739.3,149.8 736.3,148.3 733.7,143.6 731.1,140.9 729.4,141.2 729.3,145.5 729.1,149.8 731,154.5 732.8,159.8 735.1,161.6 738.3,165.4 739.6,171.7 741.1,178 739.9,178.6 735.9,173.9 733.4,168.5 732.9,163.8 728.7,157.6 727.9,151.4 727.3,146.7 726.5,142.1 724.7,136.7 722.8,131.4 720.1,130.5 717.6,133.6 715.7,131.4 715.1,127.7 714.4,123.9 710.1,119.5 707.6,116.5 706,113.6 703.5,115.1 699.6,115.7 696.2,118 695.7,121 691.8,125.4 687.5,129.9 685.1,132.2 682.6,134.5 683.1,140.6 683,144.4 682.9,148.3 681.4,150.4 678.5,155.1 677.3,157.3 674.3,154.5 672.7,150.6 670.9,146.7 669.1,142.1 667.3,137.5 663.8,131.4 662.4,127.7 660.9,123.9 660.5,120.7 660,117.4 658.7,114.2 653.9,118.6 649.1,113.9 651.7,112.5 647.3,110.7 642.7,107 641.1,105 637.7,105.3 634.3,105.6 630.8,105.7 627.4,105.8 623.8,105.4 620.3,105 615.4,104.1 613,100.5 607.5,101.9 603.9,100.2 600.4,98.5 596.2,93.8 592.1,91.6 589.3,92.5 589.3,95.2 593.4,100.8 596.2,103.6 597.7,107 599.1,103.9 600,108.4 603.8,108.4 607.7,108.4 611.8,105 612.6,103 614,108.7 619.2,110.4 623.2,113.9 619.8,119.5 618,123.9 614.2,126.9 609.8,129.9 605.4,131.7 600.9,133.6 596.3,136.3 591.7,139 586.4,140.6 581,142.1 574.9,143 572.9,137.5 572.8,131.4 569.4,126.9 565.3,121 562.9,115.1 561.9,109.3 558.7,105 556.7,101.7 554.8,98.5 553.4,95.2 552.2,98 551.3,98.5 548.8,95.4 550.5,100.8 552.6,105 553.5,109.3 556,112.2 557.8,118 559.1,122.4 560.6,126.9 561.8,130.7 563.1,134.5 567.5,137.5 572.7,142.7 574.2,145.8 579.3,150.1 584.7,148.7 590.2,147.3 594.3,146.6 598.5,145.8 597.9,149.8 595.6,155.2 593.2,160.7 590.9,164.6 588.5,168.5 584.6,172.5 580.6,176.4 576.7,178.8 572.8,181.1 568.1,187.4 564.1,192.1 561.1,198.4 561.4,201.1 562.4,201.6 561.8,203.1 561.6,202.3 562.2,207.8 563.9,211.7 565.5,215.6 565.9,221.8 566.3,227.9 563.3,234ZM572,58.7 569.5,57.1 567.1,55.5 565.2,54.4 562.8,55.1 558.2,56.2 556.7,54.2 559.1,53.1 555.4,51.6 552.9,52.9 550.7,54.6 547.6,57.3 544.9,60.8 544.2,63.1 545.8,63.9 548.9,63.8 551.7,63.8 555.9,62.9 560.1,61.9 563.2,63.1 566.5,64.3 570.7,63.7 574.8,63.1 575.6,60.8 572,58.7ZM475.9,172.6 475.5,170.7 476.4,171.1 475.9,172.6ZM685.1,152 687.1,155.9 689.1,159.8 685.4,164.1 683.9,162.3 683.8,156 685.1,152ZM713.6,140.6 714.6,141.2 714.9,144.7 715.2,148.3 714.3,146.7 713.6,140.6ZM604.9,143.3 608.6,143 607.7,144.2 605.3,144.2 604.9,143.3ZM554,79.4 549.7,79.9 550.1,78.9 553,78.1 555.9,77.4 554,79.4ZM529.1,78.4 529.5,77.6 532.2,78 534.9,78.4 535.4,78.9 532.2,78.7 529.1,78.4ZM507.8,72.1 510.4,71.1 512.6,71 514.8,70.8 512,74.8 509.8,73.4 507.8,72.1ZM494.4,66.9 493,68.4 492.1,67.6 494.4,66.9ZM504,68.9 501.7,69.1 503.9,64.5 506.9,64.3 504,68.9ZM505.3,63.3 506.9,60.5 509.1,59.6 506.7,63.3 505.3,63.3ZM508.4,35.6 506.4,36.9 503.1,40.1 501.1,40.7 499.2,41.2 498.1,40.7 500.9,38.5 502.9,36.7 505.6,35.6 508.3,34.3 508.4,35.6ZM509,34.8 512.2,32.5 514.2,30.5 517.8,28.6 519.7,28.6 516.6,30.3 518,30.8 514.9,33.8 513.9,35.8 512.7,37.8 513.1,39.1 509.6,42.2 507.1,42.8 504.6,43.3 502.1,43.8 500.5,44.1 499,44.4 501.8,42.4 504.5,41.6 502.9,41 505.7,38.9 508.7,38 510.1,36.7 509.6,35.4 509,34.8ZM524.2,26.5 525.9,25.1 525.7,25.6 524.2,26.5ZM524.8,22.9 522.7,24.1 524.2,22.9 524.8,22.9ZM519.4,20.7 522.8,18.5 526.1,17.3 526.5,17.4 527,17.5 528.1,17.4 529.3,17.3 527,18.8 523.9,20.1 521.7,20.7 519.6,21.3 519.4,20.7ZM574.4,3.4 573.8,3.5 573.3,3.5 572.8,3.7 572.2,3.8 571.8,4 571,4.2 568.7,4.5 566.4,4.9 564.1,5.2 560.6,6 557.2,6.8 553.5,7.8 549.8,8.8 546.4,9.6 543,10.6 537.5,12.6 535.6,13.1 533.7,13.6 532.4,14 531.1,14.3 529.8,14.6 528.6,15 525.8,16.1 523,17.2 520.3,18.3 518,19.4 515.7,20.5 521.1,17.9 526.7,15.5 532.3,13.4 538,11.4 543.8,9.6 549.6,7.9 555.5,6.5 561.4,5.3 567.3,4.3 573.3,3.5 574.1,3.4ZM601.1,12.6 599,12.3 596.9,12 597.7,10.8 598.4,9.6 599.8,8.8 601.1,7.9 602.3,7.7 603.5,7.5 604.6,7.3 605.7,7 606.7,6.8 608.2,7.2 607.6,7.7 606.9,8.1 606.1,8.7 605.1,9.2 603.8,9.9 602.4,10.6 601.1,12.6ZM574.7,5.1 575.8,5 576.9,4.9 577.9,4.8 579,4.7 579.5,4.8 580,4.9 580.6,5 581.3,5.1 581.9,5.2 579.6,5.8 577.1,6.5 575.6,6.7 574.2,6.8 572.7,7 571.2,7.2 571.4,6.7 571.7,6.3 572.2,5.8 574.7,5.1ZM622.3,5.3 621.7,5.4 621.1,5.4 620.5,5.4 619.9,5.5 619.2,5.5 615.9,4.7 616.5,4.5 619.5,4.9 622.3,5.3ZM592.7,4.7 593.8,4.6 594.8,4.5 595.8,4.5 596.8,4.4 597.7,4.3 598.6,4.2 599.4,4.2 600.6,4.4 601.9,4.6 601.1,4.7 600.3,4.8 599.4,4.9 598.5,5 597.6,5.1 596.6,5 595.6,4.9 594.6,4.8 593.6,4.7 592.7,4.7ZM764,227.9 765.8,226.4 766.4,228.8 768.2,222.7 769.2,220.7 770.2,218.7 770.5,219.5 770.8,220.2 770.9,220.8 769.9,224.8 768.8,228.8 767.9,233.4 767.4,235.5 766.8,237.6 764.9,243.1 762.9,248.5 760.7,253.9 758.3,259.2 755.7,264.4 753,269.6 750.1,274.6 747.1,279.6 743.9,284.4 740.5,289.2 737,293.8 739.2,290.9 741.3,288 743.5,284.9 742.9,285.6 742.3,286.2 744.7,282.3 746.6,278.6 746.4,277.9 746.2,277.3 744.6,278.2 742.8,279.2 739.5,282.3 737.5,283 735.4,283.6 731.9,286.2 731,285.3 729.9,284.4 732.2,281.4 734.3,278.4 736.1,274.3 737.8,270.2 738.6,266.7 739.4,263.2 741.5,257.6 743.1,254 744.6,250.3 745.7,249.7 747.9,248 750,246.2 751.6,245.2 753.2,244.1 755.7,243 757.6,239.2 759.4,235.5 761.3,233.4 764,227.9ZM765.6,214.7 767.6,209.7 768.9,209.1 767.9,210.9 766.7,212.8 765.6,214.7ZM758,208.8 759.3,209 761.6,208.4 761.3,209.3 763.4,208.9 765.2,208.4 765.2,210 763.2,210.5 761,210.9 758.3,210.9 757.7,210.9 757.8,209.8 757.6,209.4 758,208.8ZM756.7,210.3 756.1,208.1 757.5,208.8 756.7,210.3ZM746.5,207.2 744.5,206.3 742.4,205.3 742,204.1 744.5,201.6 747.7,203.1 749.7,203.1 751.7,203.1 754.2,204.4 756.2,207.2 755.7,210 753.5,209.2 751.1,208.4 748.8,207.8 746.5,207.2ZM773.3,208.4 774,203.4 774.4,198.4 774.2,196.9 773.7,195.3 773.3,191.5 773.1,185.9 773.7,185.5 774.3,185.2 774.7,186.3 775,187.4 775.1,188.7 775.2,190 774.9,195.1 774.5,200.1 773.9,205.1 773.2,210.1 773.3,208.4ZM769.7,194 769.7,192.5 770.4,192.8 770.2,194.3 769.7,194ZM771.3,194 771.1,192.1 772,192.1 772.7,192.1 772.5,194 771.3,194ZM766.2,192.1 767,197.8 765.4,196.9 764.7,191.5 764.4,195.9 764,200.3 763,200 763,193.7 763.8,189.5 764.4,185.2 764.9,179.9 766.8,179.7 768.5,179.5 769.1,178 768.3,181.8 767.4,185.5 765.6,186.8 766.2,192.1ZM734,187.4 732.1,182.7 729.9,178 727,175.6 724,173.3 723.3,169.2 722.5,165.1 724.9,165.7 727.3,166.3 730.6,171.1 733.8,175.8 737.4,180 740.8,184.3 742.6,188.5 744.2,192.8 743.8,196.9 743.3,200.9 741,201.3 739.2,198.3 737.3,195.3 735.7,191.4 734,187.4ZM771.3,181.1 771.7,184.3 771.2,183.6 771.1,180.3 770.9,177 771.6,178 771.3,181.1ZM762.1,176.4 761.6,181.1 760.9,185.9 760.2,190.6 759.3,195.3 757.4,194.7 755.3,193.7 753.2,192.8 750.9,191.5 750.5,187.9 750,184.3 749.5,178 750.4,176.4 752.6,175.8 755.4,172.6 757,169.8 758.4,167 759.7,160.7 761.4,163.4 762.9,166 761.6,168.5 761.9,172.5 762.1,176.4ZM765.3,157.6 766.8,156 767.1,152.3 768.1,156.5 769,160.7 768.6,163.8 767.2,162.3 766.2,161.5 765.1,160.7 765.3,157.6ZM761,149.8 760.3,153.1 759.4,156.3 760.2,151.4 760.8,147.3 761,149.8ZM764.6,152.5 764.1,151.4 763.6,149.8 763.9,149.3 763.7,148.6 764.1,148.9 764.5,148.3 765.4,147 765.2,146.7 764.4,143.6 765.6,144.2 766.1,148.3 766.9,151.4 765.8,152 765.2,153.8 764.6,152.5ZM760.8,143.3 760,140.6 761.6,142.1 761.8,144.6 760.8,143.3ZM759.5,137.5 757.8,132.9 756.8,129.2 755.6,125.4 756.7,125.4 757.8,125.4 759.2,129.9 759.7,134.5 761.7,137.5 763.5,140.6 763.6,143 761.3,139.6 759.5,137.5ZM743.9,125.4 742.5,126.3 740.3,123.3 741.6,120.7 743.3,121.6 743.9,125.4ZM750.4,106.4 751.8,110.7 753,115.1 751.4,112.8 750.4,110.7 749.6,105.6 750.4,106.4ZM744.7,84.4 747.2,88.9 745.2,86.5 743.4,83.9 742.8,82 744.7,84.4ZM734.1,67.9 737,71.5 739.8,75.2 742.5,78.9 743.2,79.9 743.7,81 744.4,82.6 744.1,82.3 745,83.6 744.9,84.4 743.2,81.8 742.6,81.8 741.6,79.8 740.7,77.9 740.8,77.5 738.2,73.3 736.2,70.6 734.1,67.9ZM644.4,9.2 639.9,7.9 639.5,7.8 639.1,7.7 643.3,8.8 643.9,9 644.4,9.2Z"/><path id="antR" d="M556.8,359.1 555.5,358.8 554.3,358.5 553.2,358.2 552.1,357.8 550.9,357.5 549.9,357 548.9,356.6 548,356.2 547.3,355.8 546.1,355.2 545.1,354.5 544.2,353.9 544.6,353.6 545,353.4 545.5,353.1 546.1,352.8 546.7,352.6 547.5,352.3 548.9,352.3 550.4,352.3 551.9,352.3 553.5,352.3 555.1,352.3 556.8,352.3 558.5,352.3 560.3,352.3 562.1,352.3 563.9,352.3 565.7,352.2 567.5,352.1 569.3,352 571.2,351.9 573.2,351.8 575.1,351.6 577.1,351.5 579.2,351.3 581.3,351.1 583.5,351 585.6,350.7 587.8,350.4 590.1,350.1 592.4,349.8 594.8,349.5 597.2,349.3 599.7,349.2 602.1,349.1 604.6,349 607,348.9 609.3,349.1 611.6,349.3 613.8,349.6 615.9,349.8 617.9,350.1 617.9,352.3 619.7,352 621.5,351.8 624.1,351 626.7,350.3 629.3,349.5 631.7,349.2 634.1,349 636.4,348.7 638.8,348.5 641.1,348.2 643.2,348.1 645.2,348 647.2,347.9 649.1,347.7 651,347.6 652.6,347.6 654,347.7 655.4,347.7 656.7,347.8 657.9,347.9 658.8,348 659.6,348.2 660.4,348.3 661.1,348.5 661.6,348.6 662.8,348.5 663.8,348.3 664.8,348.2 665.7,348 666.5,347.9 666.4,348.3 665.9,348.6 660.3,350.9 654.6,353 648.8,354.9 642.9,356.7 637,358.2 631.1,359.5 625.1,360.6 619.1,361.6 613,362.3 607,362.8 600.9,363.1 594.8,363.2 588.6,363.1 582.4,362.8 576.2,362.2 570,361.5 563.8,360.5 557.7,359.4 557.1,359.2Z"/></defs>
<clipPath id="landR"><use href="#coastR"/></clipPath>
<g clip-path="url(#landR)">
<use href="#coastR" fill="#f9f2c4"/>
<g>
<path d="M528.0,18.0 527.8,18.8 527.2,19.5 526.2,20.1 525.0,20.6 523.6,20.9 522.0,21.0 520.4,20.9 519.0,20.6 517.8,20.1 516.8,19.5 516.2,18.8 516.0,18.0 516.2,17.2 516.8,16.5 517.8,15.9 519.0,15.4 520.4,15.1 522.0,15.0 523.6,15.1 525.0,15.4 526.2,15.9 527.2,16.5 527.8,17.2Z" fill="#b8d4ea" filter="url(#b1)"/>
<path d="M496.0,66.0 495.6,68.3 494.4,70.5 492.5,72.4 490.0,73.8 487.1,74.7 484.0,75.0 480.9,74.7 478.0,73.8 475.5,72.4 473.6,70.5 472.4,68.3 472.0,66.0 472.4,63.7 473.6,61.5 475.5,59.6 478.0,58.2 480.9,57.3 484.0,57.0 487.1,57.3 490.0,58.2 492.5,59.6 494.4,61.5 495.6,63.7Z" fill="#f2a06a" filter="url(#b3)"/>
<path d="M514.0,52.0 513.7,54.3 512.8,56.5 511.4,58.4 509.5,59.8 507.3,60.7 505.0,61.0 502.7,60.7 500.5,59.8 498.6,58.4 497.2,56.5 496.3,54.3 496.0,52.0 496.3,49.7 497.2,47.5 498.6,45.6 500.5,44.2 502.7,43.3 505.0,43.0 507.3,43.3 509.5,44.2 511.4,45.6 512.8,47.5 513.7,49.7Z" fill="#f8d8a0" filter="url(#b2)"/>
<path d="M513.0,40.0 512.8,41.8 512.1,43.5 510.9,44.9 509.5,46.1 507.8,46.8 506.0,47.0 504.2,46.8 502.5,46.1 501.1,44.9 499.9,43.5 499.2,41.8 499.0,40.0 499.2,38.2 499.9,36.5 501.1,35.1 502.5,33.9 504.2,33.2 506.0,33.0 507.8,33.2 509.5,33.9 510.9,35.1 512.1,36.5 512.8,38.2Z" fill="#e6eef0" filter="url(#b2)"/>
<path d="M514.0,12.0 570.0,8.0 566.0,38.0 540.0,42.0 514.0,40.0Z" fill="#cfe0ee" filter="url(#b3)"/>
<path d="M550.0,48.0 549.5,50.6 547.9,53.0 545.3,55.1 542.0,56.7 538.1,57.7 534.0,58.0 529.9,57.7 526.0,56.7 522.7,55.1 520.1,53.0 518.5,50.6 518.0,48.0 518.5,45.4 520.1,43.0 522.7,40.9 526.0,39.3 529.9,38.3 534.0,38.0 538.1,38.3 542.0,39.3 545.3,40.9 547.9,43.0 549.5,45.4Z" fill="#e8f0ee" filter="url(#b3)"/>
<path d="M573.0,48.0 572.5,51.1 571.1,54.0 568.9,56.5 566.0,58.4 562.6,59.6 559.0,60.0 555.4,59.6 552.0,58.4 549.1,56.5 546.9,54.0 545.5,51.1 545.0,48.0 545.5,44.9 546.9,42.0 549.1,39.5 552.0,37.6 555.4,36.4 559.0,36.0 562.6,36.4 566.0,37.6 568.9,39.5 571.1,42.0 572.5,44.9Z" fill="#f8eec0" filter="url(#b3)"/>
<path d="M562.0,2.0 640.0,0.0 700.0,2.0 708.0,32.0 640.0,34.0 566.0,40.0Z" fill="#c8e2ee" filter="url(#b3)"/>
<path d="M579.0,68.0 578.3,69.6 576.3,71.0 573.1,72.2 569.0,73.2 564.2,73.8 559.0,74.0 553.8,73.8 549.0,73.2 544.9,72.2 541.7,71.0 539.7,69.6 539.0,68.0 539.7,66.4 541.7,65.0 544.9,63.8 549.0,62.8 553.8,62.2 559.0,62.0 564.2,62.2 569.0,62.8 573.1,63.8 576.3,65.0 578.3,66.4Z" fill="#f6c088" filter="url(#b2)"/>
<path d="M556.0,66.0 555.7,66.8 554.9,67.5 553.7,68.1 552.0,68.6 550.1,68.9 548.0,69.0 545.9,68.9 544.0,68.6 542.3,68.1 541.1,67.5 540.3,66.8 540.0,66.0 540.3,65.2 541.1,64.5 542.3,63.9 544.0,63.4 545.9,63.1 548.0,63.0 550.1,63.1 552.0,63.4 553.7,63.9 554.9,64.5 555.7,65.2Z" fill="#f2a470" filter="url(#b1)"/>
<path d="M480.4,79.0 480.9,80.8 480.8,82.8 479.8,85.0 478.2,87.2 476.1,89.3 473.5,91.1 470.7,92.4 467.8,93.2 465.1,93.5 462.8,93.2 460.9,92.4 459.6,91.0 459.1,89.2 459.2,87.2 460.2,85.0 461.8,82.8 463.9,80.7 466.5,78.9 469.3,77.6 472.2,76.8 474.9,76.5 477.2,76.8 479.1,77.6Z" fill="#e0603c" filter="url(#b2)"/>
<path d="M502.0,78.0 501.7,79.3 500.7,80.5 499.1,81.5 497.0,82.3 494.6,82.8 492.0,83.0 489.4,82.8 487.0,82.3 484.9,81.5 483.3,80.5 482.3,79.3 482.0,78.0 482.3,76.7 483.3,75.5 484.9,74.5 487.0,73.7 489.4,73.2 492.0,73.0 494.6,73.2 497.0,73.7 499.1,74.5 500.7,75.5 501.7,76.7Z" fill="#f09060" filter="url(#b2)"/>
<path d="M608.0,84.0 607.4,87.6 605.6,91.0 602.7,93.9 599.0,96.1 594.7,97.5 590.0,98.0 585.3,97.5 581.0,96.1 577.3,93.9 574.4,91.0 572.6,87.6 572.0,84.0 572.6,80.4 574.4,77.0 577.3,74.1 581.0,71.9 585.3,70.5 590.0,70.0 594.7,70.5 599.0,71.9 602.7,74.1 605.6,77.0 607.4,80.4Z" fill="#fbeec0" filter="url(#b3)"/>
<path d="M607.0,58.0 606.7,61.6 605.7,65.0 604.1,67.9 602.0,70.1 599.6,71.5 597.0,72.0 594.4,71.5 592.0,70.1 589.9,67.9 588.3,65.0 587.3,61.6 587.0,58.0 587.3,54.4 588.3,51.0 589.9,48.1 592.0,45.9 594.4,44.5 597.0,44.0 599.6,44.5 602.0,45.9 604.1,48.1 605.7,51.0 606.7,54.4Z" fill="#f6e0b0" filter="url(#b3)"/>
<path d="M596.0,60.0 595.9,60.8 595.6,61.5 595.1,62.1 594.5,62.6 593.8,62.9 593.0,63.0 592.2,62.9 591.5,62.6 590.9,62.1 590.4,61.5 590.1,60.8 590.0,60.0 590.1,59.2 590.4,58.5 590.9,57.9 591.5,57.4 592.2,57.1 593.0,57.0 593.8,57.1 594.5,57.4 595.1,57.9 595.6,58.5 595.9,59.2Z" fill="#ec8e62" filter="url(#b1)"/>
<path d="M661.0,50.0 659.8,53.6 656.2,57.0 650.5,59.9 643.0,62.1 634.3,63.5 625.0,64.0 615.7,63.5 607.0,62.1 599.5,59.9 593.8,57.0 590.2,53.6 589.0,50.0 590.2,46.4 593.8,43.0 599.5,40.1 607.0,37.9 615.7,36.5 625.0,36.0 634.3,36.5 643.0,37.9 650.5,40.1 656.2,43.0 659.8,46.4Z" fill="#f8f2c8" filter="url(#b3)"/>
<path d="M670.0,40.0 669.3,41.6 667.3,43.0 664.1,44.2 660.0,45.2 655.2,45.8 650.0,46.0 644.8,45.8 640.0,45.2 635.9,44.2 632.7,43.0 630.7,41.6 630.0,40.0 630.7,38.4 632.7,37.0 635.9,35.8 640.0,34.8 644.8,34.2 650.0,34.0 655.2,34.2 660.0,34.8 664.1,35.8 667.3,37.0 669.3,38.4Z" fill="#b8d4e6" filter="url(#b2)"/>
<path d="M710.0,52.0 709.3,54.6 707.3,57.0 704.1,59.1 700.0,60.7 695.2,61.7 690.0,62.0 684.8,61.7 680.0,60.7 675.9,59.1 672.7,57.0 670.7,54.6 670.0,52.0 670.7,49.4 672.7,47.0 675.9,44.9 680.0,43.3 684.8,42.3 690.0,42.0 695.2,42.3 700.0,43.3 704.1,44.9 707.3,47.0 709.3,49.4Z" fill="#f8f0c0" filter="url(#b3)"/>
<path d="M750.0,48.0 749.3,53.2 747.1,58.0 743.6,62.1 739.0,65.3 733.7,67.3 728.0,68.0 722.3,67.3 717.0,65.3 712.4,62.1 708.9,58.0 706.7,53.2 706.0,48.0 706.7,42.8 708.9,38.0 712.4,33.9 717.0,30.7 722.3,28.7 728.0,28.0 733.7,28.7 739.0,30.7 743.6,33.9 747.1,38.0 749.3,42.8Z" fill="#c0dcec" filter="url(#b3)"/>
<path d="M705.0,78.0 704.3,81.1 702.1,84.0 698.6,86.5 694.0,88.4 688.7,89.6 683.0,90.0 677.3,89.6 672.0,88.4 667.4,86.5 663.9,84.0 661.7,81.1 661.0,78.0 661.7,74.9 663.9,72.0 667.4,69.5 672.0,67.6 677.3,66.4 683.0,66.0 688.7,66.4 694.0,67.6 698.6,69.5 702.1,72.0 704.3,74.9Z" fill="#f6ecc2" filter="url(#b3)"/>
<path d="M691.0,80.0 690.7,81.3 689.9,82.5 688.7,83.5 687.0,84.3 685.1,84.8 683.0,85.0 680.9,84.8 679.0,84.3 677.3,83.5 676.1,82.5 675.3,81.3 675.0,80.0 675.3,78.7 676.1,77.5 677.3,76.5 679.0,75.7 680.9,75.2 683.0,75.0 685.1,75.2 687.0,75.7 688.7,76.5 689.9,77.5 690.7,78.7Z" fill="#7aa4d0" filter="url(#b2)"/>
<path d="M659.0,80.0 658.5,84.1 657.1,88.0 654.9,91.3 652.0,93.9 648.6,95.5 645.0,96.0 641.4,95.5 638.0,93.9 635.1,91.3 632.9,88.0 631.5,84.1 631.0,80.0 631.5,75.9 632.9,72.0 635.1,68.7 638.0,66.1 641.4,64.5 645.0,64.0 648.6,64.5 652.0,66.1 654.9,68.7 657.1,72.0 658.5,75.9Z" fill="#c0d8ea" filter="url(#b3)"/>
<path d="M652.0,65.0 651.8,66.3 651.2,67.5 650.2,68.5 649.0,69.3 647.6,69.8 646.0,70.0 644.4,69.8 643.0,69.3 641.8,68.5 640.8,67.5 640.2,66.3 640.0,65.0 640.2,63.7 640.8,62.5 641.8,61.5 643.0,60.7 644.4,60.2 646.0,60.0 647.6,60.2 649.0,60.7 650.2,61.5 651.2,62.5 651.8,63.7Z" fill="#6a90c8" filter="url(#b2)"/>
<path d="M718.0,72.0 717.4,74.3 715.6,76.5 712.7,78.4 709.0,79.8 704.7,80.7 700.0,81.0 695.3,80.7 691.0,79.8 687.3,78.4 684.4,76.5 682.6,74.3 682.0,72.0 682.6,69.7 684.4,67.5 687.3,65.6 691.0,64.2 695.3,63.3 700.0,63.0 704.7,63.3 709.0,64.2 712.7,65.6 715.6,67.5 717.4,69.7Z" fill="#c4dcec" filter="url(#b3)"/>
<path d="M699.0,120.0 698.2,127.8 695.8,135.0 692.0,141.2 687.0,146.0 681.2,149.0 675.0,150.0 668.8,149.0 663.0,146.0 658.0,141.2 654.2,135.0 651.8,127.8 651.0,120.0 651.8,112.2 654.2,105.0 658.0,98.8 663.0,94.0 668.8,91.0 675.0,90.0 681.2,91.0 687.0,94.0 692.0,98.8 695.8,105.0 698.2,112.2Z" fill="#6c92ca" filter="url(#b3)"/>
<path d="M670.0,118.0 669.7,123.7 668.7,129.0 667.1,133.6 665.0,137.1 662.6,139.3 660.0,140.0 657.4,139.3 655.0,137.1 652.9,133.6 651.3,129.0 650.3,123.7 650.0,118.0 650.3,112.3 651.3,107.0 652.9,102.4 655.0,98.9 657.4,96.7 660.0,96.0 662.6,96.7 665.0,98.9 667.1,102.4 668.7,107.0 669.7,112.3Z" fill="#5a80c0" filter="url(#b3)"/>
<path d="M691.0,114.0 690.7,116.1 689.8,118.0 688.4,119.7 686.5,120.9 684.3,121.7 682.0,122.0 679.7,121.7 677.5,120.9 675.6,119.7 674.2,118.0 673.3,116.1 673.0,114.0 673.3,111.9 674.2,110.0 675.6,108.3 677.5,107.1 679.7,106.3 682.0,106.0 684.3,106.3 686.5,107.1 688.4,108.3 689.8,110.0 690.7,111.9Z" fill="#b8d2e6" filter="url(#b2)"/>
<path d="M692.0,113.0 691.9,114.0 691.5,115.0 690.8,115.8 690.0,116.5 689.0,116.9 688.0,117.0 687.0,116.9 686.0,116.5 685.2,115.8 684.5,115.0 684.1,114.0 684.0,113.0 684.1,112.0 684.5,111.0 685.2,110.2 686.0,109.5 687.0,109.1 688.0,109.0 689.0,109.1 690.0,109.5 690.8,110.2 691.5,111.0 691.9,112.0Z" fill="#eef0dc" filter="url(#b1)"/>
<path d="M696.8,102.8 695.7,103.8 693.4,104.3 690.1,104.2 685.9,103.5 681.2,102.3 676.3,100.7 671.5,98.8 667.1,96.6 663.5,94.5 660.9,92.4 659.4,90.6 659.2,89.2 660.3,88.2 662.6,87.7 665.9,87.8 670.1,88.5 674.8,89.7 679.7,91.3 684.5,93.2 688.9,95.4 692.5,97.5 695.1,99.6 696.6,101.4Z" fill="#3a50a0" filter="url(#b2)"/>
<path d="M685.0,140.0 684.7,144.1 683.8,148.0 682.4,151.3 680.5,153.9 678.3,155.5 676.0,156.0 673.7,155.5 671.5,153.9 669.6,151.3 668.2,148.0 667.3,144.1 667.0,140.0 667.3,135.9 668.2,132.0 669.6,128.7 671.5,126.1 673.7,124.5 676.0,124.0 678.3,124.5 680.5,126.1 682.4,128.7 683.8,132.0 684.7,135.9Z" fill="#7aa0d0" filter="url(#b3)"/>
<path d="M690.0,158.0 689.9,159.6 689.6,161.0 689.1,162.2 688.5,163.2 687.8,163.8 687.0,164.0 686.2,163.8 685.5,163.2 684.9,162.2 684.4,161.0 684.1,159.6 684.0,158.0 684.1,156.4 684.4,155.0 684.9,153.8 685.5,152.8 686.2,152.2 687.0,152.0 687.8,152.2 688.5,152.8 689.1,153.8 689.6,155.0 689.9,156.4Z" fill="#a8c8e4" filter="url(#b1)"/>
<path d="M716.0,107.0 715.7,110.1 714.7,113.0 713.1,115.5 711.0,117.4 708.6,118.6 706.0,119.0 703.4,118.6 701.0,117.4 698.9,115.5 697.3,113.0 696.3,110.1 696.0,107.0 696.3,103.9 697.3,101.0 698.9,98.5 701.0,96.6 703.4,95.4 706.0,95.0 708.6,95.4 711.0,96.6 713.1,98.5 714.7,101.0 715.7,103.9Z" fill="#5a7cc0" filter="url(#b3)"/>
<path d="M749.0,100.0 748.5,103.1 746.9,106.0 744.3,108.5 741.0,110.4 737.1,111.6 733.0,112.0 728.9,111.6 725.0,110.4 721.7,108.5 719.1,106.0 717.5,103.1 717.0,100.0 717.5,96.9 719.1,94.0 721.7,91.5 725.0,89.6 728.9,88.4 733.0,88.0 737.1,88.4 741.0,89.6 744.3,91.5 746.9,94.0 748.5,96.9Z" fill="#f4a868" filter="url(#b3)"/>
<path d="M744.0,135.0 743.6,140.2 742.4,145.0 740.5,149.1 738.0,152.3 735.1,154.3 732.0,155.0 728.9,154.3 726.0,152.3 723.5,149.1 721.6,145.0 720.4,140.2 720.0,135.0 720.4,129.8 721.6,125.0 723.5,120.9 726.0,117.7 728.9,115.7 732.0,115.0 735.1,115.7 738.0,117.7 740.5,120.9 742.4,125.0 743.6,129.8Z" fill="#f2a060" filter="url(#b3)"/>
<path d="M734.0,130.0 733.9,131.3 733.5,132.5 732.8,133.5 732.0,134.3 731.0,134.8 730.0,135.0 729.0,134.8 728.0,134.3 727.2,133.5 726.5,132.5 726.1,131.3 726.0,130.0 726.1,128.7 726.5,127.5 727.2,126.5 728.0,125.7 729.0,125.2 730.0,125.0 731.0,125.2 732.0,125.7 732.8,126.5 733.5,127.5 733.9,128.7Z" fill="#ec8a5a" filter="url(#b1)"/>
<path d="M735.0,160.0 734.8,162.1 734.3,164.0 733.5,165.7 732.5,166.9 731.3,167.7 730.0,168.0 728.7,167.7 727.5,166.9 726.5,165.7 725.7,164.0 725.2,162.1 725.0,160.0 725.2,157.9 725.7,156.0 726.5,154.3 727.5,153.1 728.7,152.3 730.0,152.0 731.3,152.3 732.5,153.1 733.5,154.3 734.3,156.0 734.8,157.9Z" fill="#f0eee6" filter="url(#b2)"/>
<path d="M741.1,179.9 743.2,182.8 744.8,185.9 745.7,188.9 745.9,191.7 745.3,194.0 744.0,195.7 742.1,196.7 739.7,196.9 737.0,196.2 734.2,194.8 731.4,192.7 728.9,190.1 726.8,187.2 725.2,184.1 724.3,181.1 724.1,178.3 724.7,176.0 726.0,174.3 727.9,173.3 730.3,173.1 733.0,173.8 735.8,175.2 738.6,177.3Z" fill="#eaa070" filter="url(#b2)"/>
<path d="M730.8,168.8 731.9,170.3 732.6,171.9 732.9,173.5 732.8,175.0 732.3,176.3 731.5,177.4 730.4,178.0 729.0,178.3 727.5,178.1 725.9,177.5 724.5,176.5 723.2,175.2 722.1,173.7 721.4,172.1 721.1,170.5 721.2,169.0 721.7,167.7 722.5,166.6 723.6,166.0 725.0,165.7 726.5,165.9 728.1,166.5 729.5,167.5Z" fill="#c8dcea" filter="url(#b2)"/>
<path d="M747.8,189.8 748.9,191.3 749.6,192.9 749.9,194.5 749.8,196.0 749.3,197.3 748.5,198.4 747.4,199.0 746.0,199.3 744.5,199.1 742.9,198.5 741.5,197.5 740.2,196.2 739.1,194.7 738.4,193.1 738.1,191.5 738.2,190.0 738.7,188.7 739.5,187.6 740.6,187.0 742.0,186.7 743.5,186.9 745.1,187.5 746.5,188.5Z" fill="#dc5a3c" filter="url(#b2)"/>
<path d="M767.8,208.1 767.3,208.8 766.0,209.3 764.0,209.6 761.5,209.6 758.6,209.4 755.5,209.0 752.4,208.3 749.6,207.5 747.3,206.6 745.5,205.7 744.5,204.8 744.2,203.9 744.7,203.2 746.0,202.7 748.0,202.4 750.5,202.4 753.4,202.6 756.5,203.0 759.6,203.7 762.4,204.5 764.7,205.4 766.5,206.3 767.5,207.2Z" fill="#f0a060" filter="url(#b1)"/>
<path d="M772.0,185.0 771.6,188.1 770.4,191.0 768.5,193.5 766.0,195.4 763.1,196.6 760.0,197.0 756.9,196.6 754.0,195.4 751.5,193.5 749.6,191.0 748.4,188.1 748.0,185.0 748.4,181.9 749.6,179.0 751.5,176.5 754.0,174.6 756.9,173.4 760.0,173.0 763.1,173.4 766.0,174.6 768.5,176.5 770.4,179.0 771.6,181.9Z" fill="#b0d0e8" filter="url(#b3)"/>
<path d="M772.0,255.0 771.3,264.1 769.3,272.5 766.1,279.7 762.0,285.3 757.2,288.8 752.0,290.0 746.8,288.8 742.0,285.3 737.9,279.7 734.7,272.5 732.7,264.1 732.0,255.0 732.7,245.9 734.7,237.5 737.9,230.3 742.0,224.7 746.8,221.2 752.0,220.0 757.2,221.2 762.0,224.7 766.1,230.3 769.3,237.5 771.3,245.9Z" fill="#f8f0c0" filter="url(#b3)"/>
<path d="M742.0,278.0 741.8,280.1 741.2,282.0 740.2,283.7 739.0,284.9 737.6,285.7 736.0,286.0 734.4,285.7 733.0,284.9 731.8,283.7 730.8,282.0 730.2,280.1 730.0,278.0 730.2,275.9 730.8,274.0 731.8,272.3 733.0,271.1 734.4,270.3 736.0,270.0 737.6,270.3 739.0,271.1 740.2,272.3 741.2,274.0 741.8,275.9Z" fill="#f4a060" filter="url(#b2)"/>
<path d="M751.0,115.0 750.8,117.6 750.2,120.0 749.2,122.1 748.0,123.7 746.6,124.7 745.0,125.0 743.4,124.7 742.0,123.7 740.8,122.1 739.8,120.0 739.2,117.6 739.0,115.0 739.2,112.4 739.8,110.0 740.8,107.9 742.0,106.3 743.4,105.3 745.0,105.0 746.6,105.3 748.0,106.3 749.2,107.9 750.2,110.0 750.8,112.4Z" fill="#f0f0e0" filter="url(#b2)"/>
<path d="M748.0,70.0 747.7,72.1 746.9,74.0 745.7,75.7 744.0,76.9 742.1,77.7 740.0,78.0 737.9,77.7 736.0,76.9 734.3,75.7 733.1,74.0 732.3,72.1 732.0,70.0 732.3,67.9 733.1,66.0 734.3,64.3 736.0,63.1 737.9,62.3 740.0,62.0 742.1,62.3 744.0,63.1 745.7,64.3 746.9,66.0 747.7,67.9Z" fill="#e8eef0" filter="url(#b2)"/>
<path d="M540.0,92.0 610.0,92.0 620.0,140.0 570.0,140.0Z" fill="#fbf3c0" filter="url(#b3)"/>
<path d="M588.0,136.0 587.7,137.0 586.9,138.0 585.7,138.8 584.0,139.5 582.1,139.9 580.0,140.0 577.9,139.9 576.0,139.5 574.3,138.8 573.1,138.0 572.3,137.0 572.0,136.0 572.3,135.0 573.1,134.0 574.3,133.2 576.0,132.5 577.9,132.1 580.0,132.0 582.1,132.1 584.0,132.5 585.7,133.2 586.9,134.0 587.7,135.0Z" fill="#b0d0e8" filter="url(#b2)"/>
<path d="M430.0,95.0 560.0,95.0 565.0,125.0 430.0,125.0Z" fill="#fbf3c0" filter="url(#b3)"/>
<path d="M434.0,122.0 600.0,122.0 600.0,140.0 575.0,165.0 434.0,170.0Z" fill="#b0cde8" filter="url(#b3)"/>
<path d="M535.0,142.0 533.5,145.4 529.0,148.5 521.8,151.2 512.5,153.3 501.6,154.6 490.0,155.0 478.4,154.6 467.5,153.3 458.2,151.2 451.0,148.5 446.5,145.4 445.0,142.0 446.5,138.6 451.0,135.5 458.2,132.8 467.5,130.7 478.4,129.4 490.0,129.0 501.6,129.4 512.5,130.7 521.8,132.8 529.0,135.5 533.5,138.6Z" fill="#6a8ec8" filter="url(#b3)"/>
<path d="M526.0,145.0 524.8,147.8 521.2,150.5 515.5,152.8 508.0,154.5 499.3,155.6 490.0,156.0 480.7,155.6 472.0,154.5 464.5,152.8 458.8,150.5 455.2,147.8 454.0,145.0 455.2,142.2 458.8,139.5 464.5,137.2 472.0,135.5 480.7,134.4 490.0,134.0 499.3,134.4 508.0,135.5 515.5,137.2 521.2,139.5 524.8,142.2Z" fill="#3a48a0" filter="url(#b3)"/>
<path d="M519.0,148.0 518.5,150.1 516.9,152.0 514.3,153.7 511.0,154.9 507.1,155.7 503.0,156.0 498.9,155.7 495.0,154.9 491.7,153.7 489.1,152.0 487.5,150.1 487.0,148.0 487.5,145.9 489.1,144.0 491.7,142.3 495.0,141.1 498.9,140.3 503.0,140.0 507.1,140.3 511.0,141.1 514.3,142.3 516.9,144.0 518.5,145.9Z" fill="#313695" filter="url(#b3)"/>
<path d="M461.0,152.0 460.7,154.6 459.8,157.0 458.4,159.1 456.5,160.7 454.3,161.7 452.0,162.0 449.7,161.7 447.5,160.7 445.6,159.1 444.2,157.0 443.3,154.6 443.0,152.0 443.3,149.4 444.2,147.0 445.6,144.9 447.5,143.3 449.7,142.3 452.0,142.0 454.3,142.3 456.5,143.3 458.4,144.9 459.8,147.0 460.7,149.4Z" fill="#8ab0d8" filter="url(#b2)"/>
<path d="M441.0,148.0 440.9,150.3 440.5,152.5 439.8,154.4 439.0,155.8 438.0,156.7 437.0,157.0 436.0,156.7 435.0,155.8 434.2,154.4 433.5,152.5 433.1,150.3 433.0,148.0 433.1,145.7 433.5,143.5 434.2,141.6 435.0,140.2 436.0,139.3 437.0,139.0 438.0,139.3 439.0,140.2 439.8,141.6 440.5,143.5 440.9,145.7Z" fill="#f0a060" filter="url(#b2)"/>
<path d="M442.0,157.0 441.9,158.0 441.5,159.0 440.8,159.8 440.0,160.5 439.0,160.9 438.0,161.0 437.0,160.9 436.0,160.5 435.2,159.8 434.5,159.0 434.1,158.0 434.0,157.0 434.1,156.0 434.5,155.0 435.2,154.2 436.0,153.5 437.0,153.1 438.0,153.0 439.0,153.1 440.0,153.5 440.8,154.2 441.5,155.0 441.9,156.0Z" fill="#e88a58" filter="url(#b1)"/>
<path d="M464.0,163.0 463.7,164.0 462.9,165.0 461.7,165.8 460.0,166.5 458.1,166.9 456.0,167.0 453.9,166.9 452.0,166.5 450.3,165.8 449.1,165.0 448.3,164.0 448.0,163.0 448.3,162.0 449.1,161.0 450.3,160.2 452.0,159.5 453.9,159.1 456.0,159.0 458.1,159.1 460.0,159.5 461.7,160.2 462.9,161.0 463.7,162.0Z" fill="#c8dcea" filter="url(#b2)"/>
<path d="M547.0,140.0 546.5,142.6 545.1,145.0 542.9,147.1 540.0,148.7 536.6,149.7 533.0,150.0 529.4,149.7 526.0,148.7 523.1,147.1 520.9,145.0 519.5,142.6 519.0,140.0 519.5,137.4 520.9,135.0 523.1,132.9 526.0,131.3 529.4,130.3 533.0,130.0 536.6,130.3 540.0,131.3 542.9,132.9 545.1,135.0 546.5,137.4Z" fill="#6a8ec8" filter="url(#b3)"/>
<path d="M574.0,146.0 573.5,148.8 572.1,151.5 569.9,153.8 567.0,155.5 563.6,156.6 560.0,157.0 556.4,156.6 553.0,155.5 550.1,153.8 547.9,151.5 546.5,148.8 546.0,146.0 546.5,143.2 547.9,140.5 550.1,138.2 553.0,136.5 556.4,135.4 560.0,135.0 563.6,135.4 567.0,136.5 569.9,138.2 572.1,140.5 573.5,143.2Z" fill="#4050a8" filter="url(#b3)"/>
<path d="M604.0,152.0 603.6,156.1 602.4,160.0 600.5,163.3 598.0,165.9 595.1,167.5 592.0,168.0 588.9,167.5 586.0,165.9 583.5,163.3 581.6,160.0 580.4,156.1 580.0,152.0 580.4,147.9 581.6,144.0 583.5,140.7 586.0,138.1 588.9,136.5 592.0,136.0 595.1,136.5 598.0,138.1 600.5,140.7 602.4,144.0 603.6,147.9Z" fill="#f2f0e0" filter="url(#b3)"/>
<path d="M572.0,172.0 571.7,174.3 570.8,176.5 569.4,178.4 567.5,179.8 565.3,180.7 563.0,181.0 560.7,180.7 558.5,179.8 556.6,178.4 555.2,176.5 554.3,174.3 554.0,172.0 554.3,169.7 555.2,167.5 556.6,165.6 558.5,164.2 560.7,163.3 563.0,163.0 565.3,163.3 567.5,164.2 569.4,165.6 570.8,167.5 571.7,169.7Z" fill="#b0d0e8" filter="url(#b2)"/>
<path d="M535.0,182.0 534.0,188.2 531.0,194.0 526.2,199.0 520.0,202.8 512.8,205.2 505.0,206.0 497.2,205.2 490.0,202.8 483.8,199.0 479.0,194.0 476.0,188.2 475.0,182.0 476.0,175.8 479.0,170.0 483.8,165.0 490.0,161.2 497.2,158.8 505.0,158.0 512.8,158.8 520.0,161.2 526.2,165.0 531.0,170.0 534.0,175.8Z" fill="#5f82c2" filter="url(#b3)"/>
<path d="M532.0,166.0 531.7,167.8 530.7,169.5 529.1,170.9 527.0,172.1 524.6,172.8 522.0,173.0 519.4,172.8 517.0,172.1 514.9,170.9 513.3,169.5 512.3,167.8 512.0,166.0 512.3,164.2 513.3,162.5 514.9,161.1 517.0,159.9 519.4,159.2 522.0,159.0 524.6,159.2 527.0,159.9 529.1,161.1 530.7,162.5 531.7,164.2Z" fill="#9cc0e0" filter="url(#b2)"/>
<path d="M520.0,198.0 519.7,200.1 518.7,202.0 517.1,203.7 515.0,204.9 512.6,205.7 510.0,206.0 507.4,205.7 505.0,204.9 502.9,203.7 501.3,202.0 500.3,200.1 500.0,198.0 500.3,195.9 501.3,194.0 502.9,192.3 505.0,191.1 507.4,190.3 510.0,190.0 512.6,190.3 515.0,191.1 517.1,192.3 518.7,194.0 519.7,195.9Z" fill="#7aa0d0" filter="url(#b2)"/>
<path d="M492.0,188.0 491.7,191.1 490.9,194.0 489.7,196.5 488.0,198.4 486.1,199.6 484.0,200.0 481.9,199.6 480.0,198.4 478.3,196.5 477.1,194.0 476.3,191.1 476.0,188.0 476.3,184.9 477.1,182.0 478.3,179.5 480.0,177.6 481.9,176.4 484.0,176.0 486.1,176.4 488.0,177.6 489.7,179.5 490.9,182.0 491.7,184.9Z" fill="#3a50a0" filter="url(#b2)"/>
<path d="M488.0,205.0 487.8,207.1 487.2,209.0 486.2,210.7 485.0,211.9 483.6,212.7 482.0,213.0 480.4,212.7 479.0,211.9 477.8,210.7 476.8,209.0 476.2,207.1 476.0,205.0 476.2,202.9 476.8,201.0 477.8,199.3 479.0,198.1 480.4,197.3 482.0,197.0 483.6,197.3 485.0,198.1 486.2,199.3 487.2,201.0 487.8,202.9Z" fill="#3d55a5" filter="url(#b2)"/>
<path d="M518.0,208.0 517.5,210.1 515.9,212.0 513.3,213.7 510.0,214.9 506.1,215.7 502.0,216.0 497.9,215.7 494.0,214.9 490.7,213.7 488.1,212.0 486.5,210.1 486.0,208.0 486.5,205.9 488.1,204.0 490.7,202.3 494.0,201.1 497.9,200.3 502.0,200.0 506.1,200.3 510.0,201.1 513.3,202.3 515.9,204.0 517.5,205.9Z" fill="#a8c8e4" filter="url(#b3)"/>
<path d="M535.0,220.0 534.7,221.6 533.7,223.0 532.1,224.2 530.0,225.2 527.6,225.8 525.0,226.0 522.4,225.8 520.0,225.2 517.9,224.2 516.3,223.0 515.3,221.6 515.0,220.0 515.3,218.4 516.3,217.0 517.9,215.8 520.0,214.8 522.4,214.2 525.0,214.0 527.6,214.2 530.0,214.8 532.1,215.8 533.7,217.0 534.7,218.4Z" fill="#f4c08a" filter="url(#b2)"/>
<path d="M562.0,192.0 561.5,195.6 560.1,199.0 557.9,201.9 555.0,204.1 551.6,205.5 548.0,206.0 544.4,205.5 541.0,204.1 538.1,201.9 535.9,199.0 534.5,195.6 534.0,192.0 534.5,188.4 535.9,185.0 538.1,182.1 541.0,179.9 544.4,178.5 548.0,178.0 551.6,178.5 555.0,179.9 557.9,182.1 560.1,185.0 561.5,188.4Z" fill="#c8dcec" filter="url(#b3)"/>
<path d="M558.0,214.0 557.7,215.3 556.9,216.5 555.7,217.5 554.0,218.3 552.1,218.8 550.0,219.0 547.9,218.8 546.0,218.3 544.3,217.5 543.1,216.5 542.3,215.3 542.0,214.0 542.3,212.7 543.1,211.5 544.3,210.5 546.0,209.7 547.9,209.2 550.0,209.0 552.1,209.2 554.0,209.7 555.7,210.5 556.9,211.5 557.7,212.7Z" fill="#f6c898" filter="url(#b2)"/>
<path d="M526.7,224.2 526.4,226.9 524.6,229.6 521.5,232.3 517.3,234.6 512.3,236.5 506.7,237.8 501.1,238.5 495.7,238.4 490.9,237.7 487.1,236.2 484.5,234.2 483.3,231.8 483.6,229.1 485.4,226.4 488.5,223.7 492.7,221.4 497.7,219.5 503.3,218.2 508.9,217.5 514.3,217.6 519.1,218.3 522.9,219.8 525.5,221.8Z" fill="#ef9a62" filter="url(#b3)"/>
<path d="M547.0,228.0 546.6,230.6 545.4,233.0 543.5,235.1 541.0,236.7 538.1,237.7 535.0,238.0 531.9,237.7 529.0,236.7 526.5,235.1 524.6,233.0 523.4,230.6 523.0,228.0 523.4,225.4 524.6,223.0 526.5,220.9 529.0,219.3 531.9,218.3 535.0,218.0 538.1,218.3 541.0,219.3 543.5,220.9 545.4,223.0 546.6,225.4Z" fill="#f6c088" filter="url(#b3)"/>
<path d="M563.0,232.0 562.7,235.6 561.9,239.0 560.7,241.9 559.0,244.1 557.1,245.5 555.0,246.0 552.9,245.5 551.0,244.1 549.3,241.9 548.1,239.0 547.3,235.6 547.0,232.0 547.3,228.4 548.1,225.0 549.3,222.1 551.0,219.9 552.9,218.5 555.0,218.0 557.1,218.5 559.0,219.9 560.7,222.1 561.9,225.0 562.7,228.4Z" fill="#f8cc94" filter="url(#b2)"/>
<path d="M523.0,250.0 522.4,253.1 520.6,256.0 517.7,258.5 514.0,260.4 509.7,261.6 505.0,262.0 500.3,261.6 496.0,260.4 492.3,258.5 489.4,256.0 487.6,253.1 487.0,250.0 487.6,246.9 489.4,244.0 492.3,241.5 496.0,239.6 500.3,238.4 505.0,238.0 509.7,238.4 514.0,239.6 517.7,241.5 520.6,244.0 522.4,246.9Z" fill="#f6c48c" filter="url(#b3)"/>
<path d="M542.0,270.0 541.3,273.1 539.1,276.0 535.6,278.5 531.0,280.4 525.7,281.6 520.0,282.0 514.3,281.6 509.0,280.4 504.4,278.5 500.9,276.0 498.7,273.1 498.0,270.0 498.7,266.9 500.9,264.0 504.4,261.5 509.0,259.6 514.3,258.4 520.0,258.0 525.7,258.4 531.0,259.6 535.6,261.5 539.1,264.0 541.3,266.9Z" fill="#f8dca4" filter="url(#b3)"/>
<path d="M594.5,247.1 592.2,252.3 589.6,257.0 586.7,260.8 583.7,263.4 580.9,264.8 578.5,264.7 576.5,263.2 575.3,260.4 574.7,256.4 574.9,251.7 575.9,246.4 577.5,240.9 579.8,235.7 582.4,231.0 585.3,227.2 588.3,224.6 591.1,223.2 593.5,223.3 595.5,224.8 596.7,227.6 597.3,231.6 597.1,236.3 596.1,241.6Z" fill="#f09460" filter="url(#b3)"/>
<path d="M596.8,229.4 595.8,231.5 594.7,233.4 593.5,234.9 592.2,236.0 591.0,236.5 589.9,236.5 589.1,235.8 588.5,234.6 588.2,233.0 588.2,231.0 588.6,228.9 589.2,226.6 590.2,224.5 591.3,222.6 592.5,221.1 593.8,220.0 595.0,219.5 596.1,219.5 596.9,220.2 597.5,221.4 597.8,223.0 597.8,225.0 597.4,227.1Z" fill="#d8482e" filter="url(#b2)"/>
</g></g>
<path d="M478.1,78.9 477.4,81.8 476.3,85.5 473.7,86.8 471.1,88.1 470,90 466.8,92.5 463.1,94.2 459.5,96 457.7,99.9M458.2,98.8 456.1,98.8 454.1,98.8 452.2,98.8M457.7,99.9 456.1,103.9 453.7,103.7 451.6,103.6 450.1,107.1 448.6,110.7 446.4,112.8 445,117.1 442.4,117 440.1,116.8M457.7,99.9 459.3,103.1 461.1,106.4M461.1,106.4 459.1,111.4 457.2,116.4 455.3,121.4 453.7,126.6 452.1,131.7 448.5,132.6 445.2,133.6 441.9,134.5 440.4,136.6 438.8,135.2 437.3,133.8 435.8,132.3M461.1,106.4 463.1,110.2 465.4,114.1 468,118 470.3,120.7 472.8,123.3 476.1,122.7 480.2,119.7 484.4,116.7 488.6,113.7 492.9,110.7 492.6,107.8 489.9,107 489.9,102.2 491.5,98.7 493.1,95.2 493.6,91.6 493.5,88 493.5,84.4 495.4,81.1 497.2,77.9 499.3,74.3M493.6,91.6 496.4,88.1 500.7,84.1M529.8,88.1 528.5,93.4 527.3,98.7 526.1,104.1 525,109.7 524,115.3 523.1,121 520.4,121 520.2,122.4 516.3,120.1 512.5,117.8 508.9,115.6 505.3,113.3 501.9,111 497.3,113.3 495.1,112 492.9,110.7M524.1,115.1 529.4,115.1 534.7,115.1 540.2,115.1 545.7,115.1 551.2,115.1 556.9,115.1M440.4,136.6 440.5,140.9 438.9,143.9 441.1,145.5 443.9,147.3 443.8,150.7 447.2,150.7 448.5,150.1 449.5,147 452.1,141.5 454.6,139.5 457.1,137.5 459.5,136.9 462,136.3 465.4,135.2 468.9,134.2 471.2,130.2 472,126.8 472.8,123.3M462,136.3 462.8,141.2 464.3,143.3 466.8,146.1 468.8,140.6 471.4,140.4 474,140.3 478.3,141.8 481.3,141.3 484.3,140.9 488,140.3 490.5,141.8 492.6,142.4M490.5,141.8 491,138.1 494,132.6 497,127.2 498.5,123.5 500,119.8 500.9,115.4 501.9,111M520.2,122.4 519.2,128.1 518.4,133.9 515.6,134.5 514,138.3 512.5,142.1 513,148.3 510.7,149.5 507.5,152 504.3,154.5 502.4,154.8 498.5,157 494.7,159.1 493.4,159.1 491.4,152.9 494.6,151.4 493.3,146.7 492.6,142.4M513,148.3 514.8,151.8 516.6,155.4 520.9,154.2 525.2,152.9 529.6,152.1 534,151.4 537.7,148.3 541.4,145.2 543.5,149 545.7,152.9M513,148.3 514.1,151.8 515.2,155.4 520.5,160.7 525.7,166.3M545.7,152.9 548.9,148.3 551.4,143.2 554,138.1 555,134 556,129.9 560.6,126.9M554,138.1 560,137.5 564.5,137.5 567.9,140.6 571.5,143.6M571.5,143.6 573.2,148.3 576.2,154.5 582.3,156 588.6,157.6 583.9,162.3 579.1,167 574.4,168.5 569.7,170.1 566.6,170.1 566.6,176.1 566.6,182.1 566.6,188.1M566.6,170.1 560.4,171.7 555.8,170.1 551.3,168.5 545.2,167 545.4,160.7 545.6,156.8 545.7,152.9M551.3,168.5 547.4,169.6 543.6,170.7 537.6,171.1 535.6,171.7 530.6,169 525.7,166.3 520.2,167 516.4,167.4 512.6,167.9 508,167.3 503.6,166.7 500.7,171.7 497.3,173.7 493.9,175.8 490.1,175.6 486.3,175.5 482,175.8 478.4,175.5M493.4,159.1 490.5,165.4 492.1,170.6 493.9,175.8M500.7,171.7 499.9,176.4 499.2,181.1 498.6,185.9 494.4,189 493.2,192.6 492.1,196.2 488.3,197.6 484.6,199.1M489.8,175.8 489.9,180 490,184.3 486.3,190.6 481.7,195M482,175.8 482,179.5 477.4,179.5M475.6,168.5 478.3,162.3 482.1,160.7 484.9,156 487.8,151.4 490.2,146.9 492.6,142.4M463,162.6 463.4,158.5 464,154.5 466.2,150.4 466.8,146.1M460.6,163.2 461,158.8 461.5,154.5 460.9,148.3 464.3,143.3M459.8,163.5 458.9,157.6 458.9,152.9 459.1,148.3 456.3,148.3 453.7,148.3 453,152.6 452.4,157.6 451.7,162.1 451,166.7M453,152.6 450.7,151.4 448.5,150.1M443,168.9 442.6,165.6 442.2,162.3 442.7,159.1 442.3,158.5 440.9,159.1 439.7,156.3 437.3,161M435.5,154.5 437.2,151.7 439,151.4 439.7,156.3M442.3,158.5 443,154.6 443.8,150.7M434.2,148.6 436.5,145.2 438.9,143.9M432.9,143.9 434.8,143.6 436.9,143.3M484.7,200.9 488.2,201 491.6,201.1 495.2,201.3 497.3,206.3 501.4,207.8 505.2,204.7 510.2,205.6 510.7,209.1 511.2,212.5 511.1,217.1 514.1,217.1 517.1,217.1 517.7,223.3 512.2,223.3 512.8,228.2 513.4,233.1 517.2,237M517.1,217.1 521.4,218.1 527.3,221.2 531.9,224.5 533.8,220.2 529.7,214 529.4,209.4 532.6,209.1 535.8,208.8M535.8,208.8 533.8,205.2 531.9,201.6 531.3,196.9 530.8,192.1 531.6,187.4 532.5,182.7 533.1,178 536.1,175.8 535.6,171.7M543.6,170.7 546.6,176.4 545,181.1 544.8,185.9 550.3,189.8 555.8,193.7 561.1,197.5M532.5,185.9 536.5,185.9 540.6,185.9 544.8,185.9M565.2,215.6 560.8,217.3 556.5,219 552.8,218.8 549,218.7M535.8,208.8 539.1,210.5 542.4,212.2 545.7,212.5M545.7,212.5 549,218.7 550.6,224.8 552.1,230.9 551,235.8 548.8,231.8 546.6,227.9 542.7,225.4 543.2,220.2 544.4,216.4 545.7,212.5M536.5,231.2 540.2,232.9 544,234.6 544.6,239.4 545.2,244.1 543.2,247.7 541.3,251.2 542.8,255.7 544.4,260.1 547.4,264.1M522.7,237.9 526.3,235.9 530,234 533.2,232.6 536.5,231.2M487.9,236.1 492.1,235.5 496.3,235.9 500.5,236.3 504.8,236.7 508.2,237.6 511.6,238.5 514.4,237.7 517.2,237 522.7,237.9 518.9,238.4 515.2,238.9 511.5,239.4 512.5,244.9 513.7,250.3 511.1,250.3 512,254.4 512.9,258.4 514.1,263.5 515.4,268.6 511.3,268.8 507.3,269.1M522.7,237.9 525.7,241.9 528.7,245.9 532.3,248.3 536,250.6 541.3,251.2M536,250.6 533.1,252.9 530.2,255.3 527.2,260.4 524,260.1 520.7,259.8 516.8,259.1 512.9,258.4M533.7,272.7 535.5,269.4 539.4,271 539.1,274.6 535.8,274.6 533.7,272.7M479.8,62.2 481,61.7 482.4,62.6 479.5,66 477.2,69.1 474.2,72.6 473.7,73.6M491.7,58.7 493.2,60.3 495.3,60.5 497.6,61M511.2,42.2 511.6,44.4 513.1,45.4 514.4,46 515.9,46.5 512.7,49.4 508,52.4 509.1,53.1 506.7,56.2 506.8,57.8M521.2,38 518.7,40.5 515.9,42.4 515.3,43.8 513.1,45.4M513,41.6 515.2,41.6 515.9,42.4M526.2,35 527.8,35.2M532.6,36.9 531.1,39.5 529.6,42.4 526.8,43.1 524,43.8 524.6,46.9 521.4,49.6 519.3,49.6 517.2,49.6 515,49.5 512.7,49.4M509.1,53.1 512.5,52.9 515.8,51.8 515.5,50M516.2,51.1 519.5,50.7 521.2,51.8 520.2,53.5M524.6,46.9 526.9,46.5 529.8,47.3 527.5,49.6 525.6,51.3 523.4,51.6 521.2,51.8M529.6,42.4 531,44 532.7,44.4 534.4,44.8 537.3,45.5 540.2,46.3M529.8,47.3 534.1,45.4M529,48.6 532.6,48.6 535.6,48.1 538.7,47.7M540.2,46.3 544.5,43.4 545.2,40.5 547.8,36.9 546.8,35.9 544.2,35.9 541.6,35.9M538.7,47.7 536.5,50 534.2,52.4 532,52.7 529.7,53.1 528,52.4 526.4,51.8M538.7,47.7 541,48.5 543.3,49.2 547.1,47.9 547.6,50.4 548.2,52.9 548.8,54 550.7,54.6M535.8,56.2 537.7,57.1 539.7,58 542.8,57.7 546,57.3 547.2,58M529.7,53.1 529.7,55.3 527.8,58.5 529.1,61.2 532.9,61.2 534.3,58.7 535.8,56.2M532.9,61.2 533,63.6 536.4,63.5 539.7,63.3 544.6,61.9M525.4,67.4 528.6,64.8 533,63.6M523.7,54.6 526.7,55 529.7,55.3M523.1,54 523.7,54.6 524.4,57.7 525.3,60.8M526.5,61.9 529.1,61.2M539.2,64.8 540.8,62.6 544.6,61.9M574.8,63.1 579.4,64 582.2,67.4 581.4,70.5 580.5,73.6 575.5,73.8 572.6,74.2 569.7,74.6 565.9,74.8 562.2,75.1 560,76.6M575.5,73.8 573.8,77.1 572,80.5 568.8,81.9 565.5,83.3 561.7,84.3 557.8,85.2 557.3,83.6 560.2,81.2 558.6,80.2M565.5,83.3 566.2,86.5 563.2,87.5 560.2,88.4 562.5,91.1 556.7,94.6 554.1,93.8M552.8,88.9 553.9,93.8M565.5,83.3 568.2,85.2 570.9,87 575.5,90.8 580.2,94.6 585.2,94.9 589.3,92.5 588.6,89.7 586.8,85.7 583,82 584.5,79.2 583.1,76.4 581.8,73.6M573.1,131.7 576.8,128.7 580.8,128.9 584.9,129 588.4,127.1 591.8,125.1 596.3,124.5 600.8,123.9 605.9,119.5 610.8,115.1 609.9,113 605.2,111.2 600.6,109.3 599.4,108.4M600.8,123.9 602.4,127.4 604.1,130.8M609.9,113 612,109.3M604.6,73.3 608.4,72.4 612.1,71.6 616.4,73.3 620.7,75.1 623.3,77.6 622.8,80.3 622.2,83.1 623.9,88.4 626,88.7 628.8,94.1 630.3,97.1 631.7,100.2 627.6,105.8M572,58.7 574.8,58.9 577.6,59.1 582.1,60.3 586.6,62.2 591.3,62.4M589.9,70.6 585,69.4 582.2,67.4M586.6,62.2 583,63.8 579.4,64M592.6,51.8 590.6,49 588.6,46.1 591.8,43.4 594.8,43.2 597.8,43 601.3,43.2 604.8,43.4 608.2,42.9 611.6,42.4 614.5,42.2 617.3,42 614.8,39.5 615,36.7 618.5,36.1 621.9,35.6 625.1,34.9 628.3,34.3 631.2,35.1 634.1,35.9 637.1,36.7 639.7,36.3 642.2,35.9 644.4,37.6 648.1,40.2 651.8,42.8 654.7,42.6 657.5,42.4 661.8,44.2 666.1,46.1M601.8,61.9 605.4,62.7 609,63.6 608.6,59.3 608.1,55.1 610.9,54.4 613.7,53.7 616.5,55.1 619.4,56.4 622,58.5 625.2,58.2 628.4,58 631.5,59.8 636.6,63.1 639.1,63.3 642.6,61.2 645.3,61 647.9,60.8 650.8,60.1 654.9,60.1 659,60.1 662.1,61.5 660.8,58.2 659.6,55.1 662.8,54 661.6,50.3 664,50.5 666.3,50.7 666.2,48.4 666.1,46.1M609,63.6 613.5,62.5 618,61.5 621.9,63.8 625.3,66.7 628.8,69.6 632.2,71.3 635.5,73.1M623.3,77.6 627.9,77.9 631.2,75.8 635.5,73.1 638.8,73.8 641.3,73.3 643.8,72.8 649,74.8 652.1,73.9 655.2,73.1M638.8,73.8 638.5,70.3 639.8,66.7 644.2,66.2 648.4,65.5M648.4,65.5 650.9,68.1 653.9,65.5 656.3,64.9 658.8,64.3 660.4,62.9 662.1,61.5M642.4,67.9 645.8,67.6 648.3,67.9 650.9,68.1 655.2,73.1M628.8,94.1 634.1,93.5 639.3,93 639.9,88.9 642.7,88.1 645.4,87.3 647.3,82 648.4,79.7 648,75.3 651.6,74.2 655.2,73.1 658.3,75.5 661.5,77.9M646.4,110.1 649.4,109.3 652.4,108.4 653.2,105 649.8,100.8 654.3,98.2 657.2,92.7 658.9,89.5 659.1,85.7 657.5,82.7 655.8,79.7 658.7,78.8 661.5,77.9 663.3,77.9 666.5,81.8 669.8,85.7 669.1,88.9 673.4,91.6 676.1,91.4 679.7,93.7 683.3,96 688.6,98.2 691,98.2 693.4,98.2 695.5,100.5 698.6,99.5 701.6,98.5 703.4,96.4 705.1,94.4 708.4,95.7 711.6,97.1M674,96 678,97.8 682.1,99.6 685.9,100.9 689.7,102.2 692.2,101.9 694.5,101.6M700.3,115.1 698.9,111.7 697.4,108.4 696.1,107 695.8,103.6 698.6,103.6 701.8,105 704.9,106.4 705.6,110.7 707.8,116.5M707.8,116.5 709,113.6 708.3,109.3 709.4,105 709.2,101.6 710.5,99.4 711.6,97.1 715.3,100.8 716.1,103.9 716.9,107 719.5,110.9 722,114.8 725.8,116.8M725.8,116.8 724.6,119.8 723.3,122.6 722,125.4 724.6,131.4 726.2,136 727.7,140.6 727.8,145.2 727.9,149.8M725.8,116.8 726.6,113.6 729.4,112.8 731.8,113.2 734,113.6 737.1,116.3M726.6,113.6 729.3,117.3 732,121 735,125.4 738.1,129.2 741.1,132.9 742.2,137.5 742.1,141.9 741.9,146.4 739.6,149.8M724.6,119.8 727.6,122.4 728.6,128.4 731.7,126 735.3,128.4 736.9,132.2 738.5,136 739,138.4 736.8,138.4 734.5,138.4 735.2,142.4 735.8,146.4M732.4,162.6 734.9,164.5 736.4,163.2M667.2,46.3 670.2,47.9 673.2,49.6 677.8,54 682.1,55.4 686.3,56.9 689.5,58.7 692.8,60.5 695.9,60.6 698.9,60.8 702.3,61.9 705.5,63.1 707.3,61.9 708.9,60.8 709.6,59.6 710.3,58.5 709.9,56.7 709.5,55.1 709.2,53.4 708.7,51.8 708.9,50.7 709,49.6 706.8,48.6 701.8,44.8M667.2,46.3 668,44.8 668.6,43.4 671.1,43.8 673.7,44.1 676.1,44.4 676.9,42.4 677.4,40.5 680.4,41 683.3,41.4 686.9,42.6 690.4,43.8 692.8,44.8 695.2,45.9 696.4,45.2 697.5,44.5 698.4,43.8 700.1,44.3 701.8,44.8 700,42.1 698.1,39.5 697.8,38.5 697.5,37.6 702.7,41 707.8,44.4 710.9,46.5 713.9,48.6 714.2,48.2 718,51.4 721.5,55.1 721.3,55.5 723.7,58.1 726.1,60.8M726.1,60.8 726.1,61.3 726,61.9 727.2,64.5 728.2,66.9M733.3,72.1 733,71.1 733,70.1M560.8,27.2 565.3,24.1 566.4,21.9 567.6,19.8 569.4,17.8 571.2,15.9 570.6,14.8 574,13.3M562.4,18.1 564,15.9 563.7,15 563.4,14.2 565.3,14.3 567.2,14.4 569.4,14 571.6,13.6M536.9,28 541.5,24.8 543.3,23 545.2,21.2 548.3,19.8 551.3,18.5 554.4,16.9 557.5,15.3 559.7,14.8 562,14.2 563.4,14.2M560.5,27.2 557.7,30.5 555.4,30.1 553.2,29.8M557.7,30.5 557,33.1 554.2,33.6 551.4,33.4 548.7,33.1 546,32.9M554.2,33.6 551,36.3 547.8,36.9M557,33.1 559,33.9 561.1,34.8 561.6,37.6 559.6,40.3M544.8,41.4 547.9,41.3 551,41.2 554,41.5 557.1,41.8 559.6,40.3 562.2,40.9 564.8,41.4 567,43.6 570.6,44.6 574.4,45.4 573.1,49 569.7,50.5M547.1,47.9 549.7,48.1 551.7,50.7 548.2,52.9M591.3,62.4 587.9,58.5 589.2,55.1 592.6,51.8" fill="none" stroke="#000" stroke-width="1.0" stroke-linejoin="round"/>
<path d="M455.9,70.1a0.9,0.9 0 1,0 1.8,0a0.9,0.9 0 1,0 -1.8,0M455.8,72.1a0.9,0.9 0 1,0 1.8,0a0.9,0.9 0 1,0 -1.8,0M456.3,67.9a0.9,0.9 0 1,0 1.8,0a0.9,0.9 0 1,0 -1.8,0M456.5,69.8a0.9,0.9 0 1,0 1.8,0a0.9,0.9 0 1,0 -1.8,0M454.1,85.2a0.9,0.9 0 1,0 1.8,0a0.9,0.9 0 1,0 -1.8,0M448.9,98.0a0.9,0.9 0 1,0 1.8,0a0.9,0.9 0 1,0 -1.8,0M452.0,95.7a0.9,0.9 0 1,0 1.8,0a0.9,0.9 0 1,0 -1.8,0M447.3,96.6a0.9,0.9 0 1,0 1.8,0a0.9,0.9 0 1,0 -1.8,0M448.0,97.4a0.9,0.9 0 1,0 1.8,0a0.9,0.9 0 1,0 -1.8,0M427.1,132.9a0.9,0.9 0 1,0 1.8,0a0.9,0.9 0 1,0 -1.8,0M426.7,136.0a0.9,0.9 0 1,0 1.8,0a0.9,0.9 0 1,0 -1.8,0M427.2,129.9a0.9,0.9 0 1,0 1.8,0a0.9,0.9 0 1,0 -1.8,0M428.6,131.1a0.9,0.9 0 1,0 1.8,0a0.9,0.9 0 1,0 -1.8,0M415.4,194.7a0.9,0.9 0 1,0 1.8,0a0.9,0.9 0 1,0 -1.8,0M499.6,334.9a0.9,0.9 0 1,0 1.8,0a0.9,0.9 0 1,0 -1.8,0M502.0,336.4a0.9,0.9 0 1,0 1.8,0a0.9,0.9 0 1,0 -1.8,0M450.5,232.1a0.9,0.9 0 1,0 1.8,0a0.9,0.9 0 1,0 -1.8,0M432.7,207.5a0.9,0.9 0 1,0 1.8,0a0.9,0.9 0 1,0 -1.8,0M611.1,197.2a0.9,0.9 0 1,0 1.8,0a0.9,0.9 0 1,0 -1.8,0M611.8,196.2a0.9,0.9 0 1,0 1.8,0a0.9,0.9 0 1,0 -1.8,0M616.0,245.0a0.9,0.9 0 1,0 1.8,0a0.9,0.9 0 1,0 -1.8,0M610.0,247.7a0.9,0.9 0 1,0 1.8,0a0.9,0.9 0 1,0 -1.8,0M633.3,243.5a0.9,0.9 0 1,0 1.8,0a0.9,0.9 0 1,0 -1.8,0M573.3,219.3a0.9,0.9 0 1,0 1.8,0a0.9,0.9 0 1,0 -1.8,0M576.7,220.8a0.9,0.9 0 1,0 1.8,0a0.9,0.9 0 1,0 -1.8,0M578.9,222.7a0.9,0.9 0 1,0 1.8,0a0.9,0.9 0 1,0 -1.8,0M582.4,212.2a0.9,0.9 0 1,0 1.8,0a0.9,0.9 0 1,0 -1.8,0M662.1,205.6a0.9,0.9 0 1,0 1.8,0a0.9,0.9 0 1,0 -1.8,0M663.5,199.7a0.9,0.9 0 1,0 1.8,0a0.9,0.9 0 1,0 -1.8,0M665.7,169.5a0.9,0.9 0 1,0 1.8,0a0.9,0.9 0 1,0 -1.8,0M664.4,179.5a0.9,0.9 0 1,0 1.8,0a0.9,0.9 0 1,0 -1.8,0M665.9,184.6a0.9,0.9 0 1,0 1.8,0a0.9,0.9 0 1,0 -1.8,0M663.7,162.3a0.9,0.9 0 1,0 1.8,0a0.9,0.9 0 1,0 -1.8,0M664.9,173.3a0.9,0.9 0 1,0 1.8,0a0.9,0.9 0 1,0 -1.8,0M665.3,166.0a0.9,0.9 0 1,0 1.8,0a0.9,0.9 0 1,0 -1.8,0M662.1,149.8a0.9,0.9 0 1,0 1.8,0a0.9,0.9 0 1,0 -1.8,0M663.0,146.7a0.9,0.9 0 1,0 1.8,0a0.9,0.9 0 1,0 -1.8,0M660.8,147.6a0.9,0.9 0 1,0 1.8,0a0.9,0.9 0 1,0 -1.8,0M716.9,157.6a0.9,0.9 0 1,0 1.8,0a0.9,0.9 0 1,0 -1.8,0M715.0,153.8a0.9,0.9 0 1,0 1.8,0a0.9,0.9 0 1,0 -1.8,0M597.2,313.4a0.9,0.9 0 1,0 1.8,0a0.9,0.9 0 1,0 -1.8,0M598.7,313.4a0.9,0.9 0 1,0 1.8,0a0.9,0.9 0 1,0 -1.8,0M567.6,314.5a0.9,0.9 0 1,0 1.8,0a0.9,0.9 0 1,0 -1.8,0M637.2,326.9a0.9,0.9 0 1,0 1.8,0a0.9,0.9 0 1,0 -1.8,0M659.8,293.3a0.9,0.9 0 1,0 1.8,0a0.9,0.9 0 1,0 -1.8,0M658.9,295.6a0.9,0.9 0 1,0 1.8,0a0.9,0.9 0 1,0 -1.8,0M722.5,220.8a0.9,0.9 0 1,0 1.8,0a0.9,0.9 0 1,0 -1.8,0M740.5,215.6a0.9,0.9 0 1,0 1.8,0a0.9,0.9 0 1,0 -1.8,0M469.9,181.8a0.9,0.9 0 1,0 1.8,0a0.9,0.9 0 1,0 -1.8,0M471.8,177.7a0.9,0.9 0 1,0 1.8,0a0.9,0.9 0 1,0 -1.8,0M467.6,187.1a0.9,0.9 0 1,0 1.8,0a0.9,0.9 0 1,0 -1.8,0M517.6,329.5a0.9,0.9 0 1,0 1.8,0a0.9,0.9 0 1,0 -1.8,0M466.4,291.6a0.9,0.9 0 1,0 1.8,0a0.9,0.9 0 1,0 -1.8,0M474.8,299.4a0.9,0.9 0 1,0 1.8,0a0.9,0.9 0 1,0 -1.8,0M519.7,28.0a0.9,0.9 0 1,0 1.8,0a0.9,0.9 0 1,0 -1.8,0M508.8,76.9a0.9,0.9 0 1,0 1.8,0a0.9,0.9 0 1,0 -1.8,0M595.3,103.6a0.9,0.9 0 1,0 1.8,0a0.9,0.9 0 1,0 -1.8,0M614.3,195.3a0.9,0.9 0 1,0 1.8,0a0.9,0.9 0 1,0 -1.8,0M619.5,232.5a0.9,0.9 0 1,0 1.8,0a0.9,0.9 0 1,0 -1.8,0M450.5,232.1a0.9,0.9 0 1,0 1.8,0a0.9,0.9 0 1,0 -1.8,0M432.7,207.5a0.9,0.9 0 1,0 1.8,0a0.9,0.9 0 1,0 -1.8,0M584.6,218.7a0.9,0.9 0 1,0 1.8,0a0.9,0.9 0 1,0 -1.8,0M562.8,207.2a0.9,0.9 0 1,0 1.8,0a0.9,0.9 0 1,0 -1.8,0M645.5,220.2a0.9,0.9 0 1,0 1.8,0a0.9,0.9 0 1,0 -1.8,0M626.3,215.3a0.9,0.9 0 1,0 1.8,0a0.9,0.9 0 1,0 -1.8,0M607.5,232.5a0.9,0.9 0 1,0 1.8,0a0.9,0.9 0 1,0 -1.8,0" fill="#111"/>
<use href="#antR" fill="#ffffff"/>
<g fill="none" stroke="#000" stroke-width="1.3" stroke-linejoin="round"><use href="#coastR"/><use href="#antR"/></g>
<clipPath id="thickR"><rect x="480" y="0" width="240" height="36"/><rect x="740" y="115" width="37" height="100"/><rect x="700" y="15" width="60" height="65"/></clipPath>
<g fill="none" stroke="#000" stroke-width="2.1" stroke-linejoin="round" clip-path="url(#thickR)"><use href="#coastR"/><use href="#antR"/></g>
<clipPath id="thickbR"><rect x="500" y="0" width="120" height="25"/></clipPath>
<g fill="none" stroke="#000" stroke-width="2.8" stroke-linejoin="round" clip-path="url(#thickbR)"><use href="#coastR"/></g>
<path d="M504.5,339 505.4,339 506.5,339 507.2,339 508,339 509,339 510,339 511.1,339 512.4,339 513.7,339 515.1,339 516.6,339 518.3,339 520,339 521.8,339 523.7,339 525.7,339 527.7,339 529.9,339 532.1,339 534.4,339 536.8,339 539.2,339 541.8,339 544.3,339 547,339 549.7,339 552.4,339 555.2,339 558.1,339 561,339 563.9,339 566.9,339 569.9,339 573,339 576,339 579.1,339 582.2,339 585.4,339 588.5,339 591.7,339 594.8,339 597.9,339 601.1,339 604.2,339 607.4,339 610.5,339 613.6,339 616.6,339 619.7,339 622.7,339 625.7,339 628.6,339 631.5,339 634.4,339 637.2,339 639.9,339 642.6,339 645.3,339 647.8,339 650.4,339 652.8,339 655.2,339 657.5,339 659.7,339 661.9,339 663.9,339 665.9,339 667.8,339 669.6,339 671.3,339 673,339 674.5,339 675.9,339 677.2,339 678.5,339 679.6,339 680.6,339 681.6,339 682.4,339 683.1,339 683.7,339 684.6,339M438.5,272.9 439.3,272.9 440,272.9 440.9,272.9 441.9,272.9 443.1,272.9 444.5,272.9 446.1,272.9 447.9,272.9 449.9,272.9 452,272.9 454.3,272.9 456.8,272.9 459.4,272.9 462.2,272.9 465.2,272.9 468.3,272.9 471.6,272.9 475.1,272.9 478.6,272.9 482.4,272.9 486.2,272.9 490.2,272.9 494.3,272.9 498.6,272.9 502.9,272.9 507.4,272.9 512,272.9 516.6,272.9 521.4,272.9 526.3,272.9 531.2,272.9 536.2,272.9 541.3,272.9 546.5,272.9 551.7,272.9 557,272.9 562.3,272.9 567.7,272.9 573,272.9 578.5,272.9 583.9,272.9 589.3,272.9 594.8,272.9 600.3,272.9 605.7,272.9 611.1,272.9 616.6,272.9 621.9,272.9 627.3,272.9 632.6,272.9 637.9,272.9 643.1,272.9 648.3,272.9 653.4,272.9 658.4,272.9 663.3,272.9 668.2,272.9 673,272.9 677.6,272.9 682.2,272.9 686.7,272.9 691,272.9 695.3,272.9 699.4,272.9 703.4,272.9 707.2,272.9 711,272.9 714.5,272.9 718,272.9 721.3,272.9 724.4,272.9 727.4,272.9 730.2,272.9 732.8,272.9 735.3,272.9 737.6,272.9 739.7,272.9 741.7,272.9 743.5,272.9 745.1,272.9 746.5,272.9 747.7,272.9 748.7,272.9 749.6,272.9 750.3,272.9 751,272.9M414.3,182.7 415.3,182.7 416.1,182.7 417,182.7 418.2,182.7 419.7,182.7 421.3,182.7 423.1,182.7 425.2,182.7 427.4,182.7 429.9,182.7 432.6,182.7 435.4,182.7 438.5,182.7 441.7,182.7 445.2,182.7 448.8,182.7 452.6,182.7 456.5,182.7 460.7,182.7 465,182.7 469.4,182.7 474,182.7 478.8,182.7 483.7,182.7 488.7,182.7 493.9,182.7 499.1,182.7 504.5,182.7 510.1,182.7 515.7,182.7 521.4,182.7 527.2,182.7 533.1,182.7 539,182.7 545,182.7 551.1,182.7 557.3,182.7 563.5,182.7 569.7,182.7 575.9,182.7 582.2,182.7 588.5,182.7 594.8,182.7 601.1,182.7 607.4,182.7 613.7,182.7 619.9,182.7 626.1,182.7 632.3,182.7 638.5,182.7 644.6,182.7 650.6,182.7 656.5,182.7 662.4,182.7 668.2,182.7 673.9,182.7 679.5,182.7 685,182.7 690.5,182.7 695.7,182.7 700.9,182.7 705.9,182.7 710.8,182.7 715.6,182.7 720.2,182.7 724.6,182.7 728.9,182.7 733.1,182.7 737,182.7 740.8,182.7 744.4,182.7 747.9,182.7 751.1,182.7 754.2,182.7 757,182.7 759.7,182.7 762.2,182.7 764.4,182.7 766.5,182.7 768.3,182.7 769.9,182.7 771.4,182.7 772.6,182.7 773.5,182.7 774.3,182.7 774.9,182.7M438.5,92.5 439.3,92.5 440,92.5 440.9,92.5 441.9,92.5 443.1,92.5 444.5,92.5 446.1,92.5 447.9,92.5 449.9,92.5 452,92.5 454.3,92.5 456.8,92.5 459.4,92.5 462.2,92.5 465.2,92.5 468.3,92.5 471.6,92.5 475.1,92.5 478.6,92.5 482.4,92.5 486.2,92.5 490.2,92.5 494.3,92.5 498.6,92.5 502.9,92.5 507.4,92.5 512,92.5 516.6,92.5 521.4,92.5 526.3,92.5 531.2,92.5 536.2,92.5 541.3,92.5 546.5,92.5 551.7,92.5 557,92.5 562.3,92.5 567.7,92.5 573,92.5 578.5,92.5 583.9,92.5 589.3,92.5 594.8,92.5 600.3,92.5 605.7,92.5 611.1,92.5 616.6,92.5 621.9,92.5 627.3,92.5 632.6,92.5 637.9,92.5 643.1,92.5 648.3,92.5 653.4,92.5 658.4,92.5 663.3,92.5 668.2,92.5 673,92.5 677.6,92.5 682.2,92.5 686.7,92.5 691,92.5 695.3,92.5 699.4,92.5 703.4,92.5 707.2,92.5 711,92.5 714.5,92.5 718,92.5 721.3,92.5 724.4,92.5 727.4,92.5 730.2,92.5 732.8,92.5 735.3,92.5 737.6,92.5 739.7,92.5 741.7,92.5 743.5,92.5 745.1,92.5 746.5,92.5 747.7,92.5 748.7,92.5 749.6,92.5 750.3,92.5 751,92.5M504.5,26.4 505.4,26.4 506.5,26.4 507.2,26.4 508,26.4 509,26.4 510,26.4 511.1,26.4 512.4,26.4 513.7,26.4 515.1,26.4 516.6,26.4 518.3,26.4 520,26.4 521.8,26.4 523.7,26.4 525.7,26.4 527.7,26.4 529.9,26.4 532.1,26.4 534.4,26.4 536.8,26.4 539.2,26.4 541.8,26.4 544.3,26.4 547,26.4 549.7,26.4 552.4,26.4 555.2,26.4 558.1,26.4 561,26.4 563.9,26.4 566.9,26.4 569.9,26.4 573,26.4 576,26.4 579.1,26.4 582.2,26.4 585.4,26.4 588.5,26.4 591.7,26.4 594.8,26.4 597.9,26.4 601.1,26.4 604.2,26.4 607.4,26.4 610.5,26.4 613.6,26.4 616.6,26.4 619.7,26.4 622.7,26.4 625.7,26.4 628.6,26.4 631.5,26.4 634.4,26.4 637.2,26.4 639.9,26.4 642.6,26.4 645.3,26.4 647.8,26.4 650.4,26.4 652.8,26.4 655.2,26.4 657.5,26.4 659.7,26.4 661.9,26.4 663.9,26.4 665.9,26.4 667.8,26.4 669.6,26.4 671.3,26.4 673,26.4 674.5,26.4 675.9,26.4 677.2,26.4 678.5,26.4 679.6,26.4 680.6,26.4 681.6,26.4 682.4,26.4 683.1,26.4 683.7,26.4 684.6,26.4M594.8,363.2 588.6,363.1 582.4,362.8 576.2,362.2 570.1,361.4 563.9,360.5 557.8,359.3 551.8,357.8 545.8,356.2 539.9,354.4 534,352.3 528.2,350.1 522.5,347.6 516.9,344.9 511.3,342.1 505.9,339 500.6,335.8 495.4,332.3 490.3,328.7 485.4,324.9 480.5,321 475.9,316.8 471.3,312.5 466.9,308.1 462.7,303.5 458.6,298.7 454.7,293.8 451,288.8 447.4,283.6 444.1,278.4 440.9,272.9 437.8,267.4 435,261.8 432.4,256.1 430,250.3 427.8,244.4 425.7,238.5 423.9,232.5 422.3,226.4 420.9,220.2 419.7,214 418.8,207.8 418,201.6 417.5,195.3 417.2,189 417,182.7 417.2,176.4 417.5,170.1 418,163.8 418.8,157.6 419.7,151.4 420.9,145.2 422.3,139 423.9,132.9 425.7,126.9 427.8,121 430,115.1 432.4,109.3 435,103.6 437.8,98 440.9,92.5 444.1,87 447.4,81.8 451,76.6 454.7,71.6 458.6,66.7 462.7,61.9 466.9,57.3 471.3,52.9 475.9,48.6 480.5,44.4 485.4,40.5 490.3,36.7 495.4,33.1 500.6,29.6 505.9,26.4 511.3,23.3 516.9,20.5 522.5,17.8 528.2,15.3 534,13.1 539.9,11 545.8,9.2 551.8,7.6 557.8,6.1 563.9,4.9 570.1,4 576.2,3.2 582.4,2.6 588.6,2.3 594.8,2.2M594.8,363.2 590,363.1 585.2,362.8 580.3,362.2 575.6,361.4 570.8,360.5 566.1,359.3 561.3,357.8 556.7,356.2 552.1,354.4 547.5,352.3 543,350.1 538.6,347.6 534.2,344.9 529.9,342.1 525.7,339 521.5,335.8 517.5,332.3 513.5,328.7 509.7,324.9 505.9,321 502.3,316.8 498.7,312.5 495.3,308.1 492,303.5 488.9,298.7 485.8,293.8 482.9,288.8 480.2,283.6 477.5,278.4 475.1,272.9 472.7,267.4 470.5,261.8 468.5,256.1 466.6,250.3 464.9,244.4 463.3,238.5 461.9,232.5 460.6,226.4 459.6,220.2 458.6,214 457.9,207.8 457.3,201.6 456.9,195.3 456.6,189 456.5,182.7 456.6,176.4 456.9,170.1 457.3,163.8 457.9,157.6 458.6,151.4 459.6,145.2 460.6,139 461.9,132.9 463.3,126.9 464.9,121 466.6,115.1 468.5,109.3 470.5,103.6 472.7,98 475.1,92.5 477.5,87 480.2,81.8 482.9,76.6 485.8,71.6 488.9,66.7 492,61.9 495.3,57.3 498.7,52.9 502.3,48.6 505.9,44.4 509.7,40.5 513.5,36.7 517.5,33.1 521.5,29.6 525.7,26.4 529.9,23.3 534.2,20.5 538.6,17.8 543,15.3 547.5,13.1 552.1,11 556.7,9.2 561.3,7.6 566.1,6.1 570.8,4.9 575.6,4 580.3,3.2 585.2,2.6 590,2.3 594.8,2.2M594.8,363.2 592.6,363.1 590.5,362.8 588.3,362.2 586.2,361.4 584.1,360.5 582,359.3 579.9,357.8 577.8,356.2 575.7,354.4 573.7,352.3 571.7,350.1 569.7,347.6 567.7,344.9 565.8,342.1 563.9,339 562.1,335.8 560.3,332.3 558.5,328.7 556.8,324.9 555.1,321 553.5,316.8 551.9,312.5 550.4,308.1 548.9,303.5 547.5,298.7 546.2,293.8 544.9,288.8 543.6,283.6 542.4,278.4 541.3,272.9 540.3,267.4 539.3,261.8 538.4,256.1 537.6,250.3 536.8,244.4 536.1,238.5 535.5,232.5 534.9,226.4 534.4,220.2 534,214 533.7,207.8 533.4,201.6 533.2,195.3 533.1,189 533.1,182.7 533.1,176.4 533.2,170.1 533.4,163.8 533.7,157.6 534,151.4 534.4,145.2 534.9,139 535.5,132.9 536.1,126.9 536.8,121 537.6,115.1 538.4,109.3 539.3,103.6 540.3,98 541.3,92.5 542.4,87 543.6,81.8 544.9,76.6 546.2,71.6 547.5,66.7 548.9,61.9 550.4,57.3 551.9,52.9 553.5,48.6 555.1,44.4 556.8,40.5 558.5,36.7 560.3,33.1 562.1,29.6 563.9,26.4 565.8,23.3 567.7,20.5 569.7,17.8 571.7,15.3 573.7,13.1 575.7,11 577.8,9.2 579.9,7.6 582,6.1 584.1,4.9 586.2,4 588.3,3.2 590.5,2.6 592.6,2.3 594.8,2.2M594.8,363.2 595.9,363.1 597,362.8 598.1,362.2 599.2,361.4 600.2,360.5 601.3,359.3 602.4,357.8 603.4,356.2 604.5,354.4 605.5,352.3 606.5,350.1 607.5,347.6 608.5,344.9 609.5,342.1 610.5,339 611.4,335.8 612.3,332.3 613.2,328.7 614.1,324.9 614.9,321 615.8,316.8 616.6,312.5 617.3,308.1 618.1,303.5 618.8,298.7 619.5,293.8 620.2,288.8 620.8,283.6 621.4,278.4 621.9,272.9 622.5,267.4 623,261.8 623.4,256.1 623.9,250.3 624.3,244.4 624.6,238.5 624.9,232.5 625.2,226.4 625.5,220.2 625.7,214 625.8,207.8 626,201.6 626.1,195.3 626.1,189 626.1,182.7 626.1,176.4 626.1,170.1 626,163.8 625.8,157.6 625.7,151.4 625.5,145.2 625.2,139 624.9,132.9 624.6,126.9 624.3,121 623.9,115.1 623.4,109.3 623,103.6 622.5,98 621.9,92.5 621.4,87 620.8,81.8 620.2,76.6 619.5,71.6 618.8,66.7 618.1,61.9 617.3,57.3 616.6,52.9 615.8,48.6 614.9,44.4 614.1,40.5 613.2,36.7 612.3,33.1 611.4,29.6 610.5,26.4 609.5,23.3 608.5,20.5 607.5,17.8 606.5,15.3 605.5,13.1 604.5,11 603.4,9.2 602.4,7.6 601.3,6.1 600.2,4.9 599.2,4 598.1,3.2 597,2.6 595.9,2.3 594.8,2.2M594.8,363.2 598.8,363.1 602.9,362.8 606.9,362.2 610.9,361.4 614.9,360.5 618.9,359.3 622.9,357.8 626.8,356.2 630.7,354.4 634.5,352.3 638.3,350.1 642,347.6 645.7,344.9 649.3,342.1 652.8,339 656.3,335.8 659.7,332.3 663,328.7 666.2,324.9 669.4,321 672.4,316.8 675.4,312.5 678.3,308.1 681,303.5 683.7,298.7 686.2,293.8 688.7,288.8 691,283.6 693.2,278.4 695.3,272.9 697.2,267.4 699.1,261.8 700.8,256.1 702.4,250.3 703.8,244.4 705.1,238.5 706.3,232.5 707.4,226.4 708.3,220.2 709.1,214 709.7,207.8 710.2,201.6 710.5,195.3 710.8,189 710.8,182.7 710.8,176.4 710.5,170.1 710.2,163.8 709.7,157.6 709.1,151.4 708.3,145.2 707.4,139 706.3,132.9 705.1,126.9 703.8,121 702.4,115.1 700.8,109.3 699.1,103.6 697.2,98 695.3,92.5 693.2,87 691,81.8 688.7,76.6 686.2,71.6 683.7,66.7 681,61.9 678.3,57.3 675.4,52.9 672.4,48.6 669.4,44.4 666.2,40.5 663,36.7 659.7,33.1 656.3,29.6 652.8,26.4 649.3,23.3 645.7,20.5 642,17.8 638.3,15.3 634.5,13.1 630.7,11 626.8,9.2 622.9,7.6 618.9,6.1 614.9,4.9 610.9,4 606.9,3.2 602.9,2.6 598.8,2.3 594.8,2.2M594.8,363.2 600.7,363.1 606.6,362.8 612.5,362.2 618.4,361.4 624.3,360.5 630.1,359.3 635.8,357.8 641.6,356.2 647.2,354.4 652.8,352.3 658.3,350.1 663.8,347.6 669.2,344.9 674.4,342.1 679.6,339 684.7,335.8 689.6,332.3 694.5,328.7 699.2,324.9 703.8,321 708.3,316.8 712.6,312.5 716.8,308.1 720.8,303.5 724.7,298.7 728.5,293.8 732,288.8 735.4,283.6 738.6,278.4 741.7,272.9 744.6,267.4 747.2,261.8 749.8,256.1 752.1,250.3 754.2,244.4 756.1,238.5 757.8,232.5 759.4,226.4 760.7,220.2 761.8,214 762.8,207.8 763.5,201.6 764,195.3 764.3,189 764.4,182.7 764.3,176.4 764,170.1 763.5,163.8 762.8,157.6 761.8,151.4 760.7,145.2 759.4,139 757.8,132.9 756.1,126.9 754.2,121 752.1,115.1 749.8,109.3 747.2,103.6 744.6,98 741.7,92.5 738.6,87 735.4,81.8 732,76.6 728.5,71.6 724.7,66.7 720.8,61.9 716.8,57.3 712.6,52.9 708.3,48.6 703.8,44.4 699.2,40.5 694.5,36.7 689.6,33.1 684.7,29.6 679.6,26.4 674.4,23.3 669.2,20.5 663.8,17.8 658.3,15.3 652.8,13.1 647.2,11 641.6,9.2 635.8,7.6 630.1,6.1 624.3,4.9 618.4,4 612.5,3.2 606.6,2.6 600.7,2.3 594.8,2.2" fill="none" stroke="#6a6a6a" stroke-width="0.65"/>
</g>
<circle cx="594.8" cy="182.7" r="180.5" fill="none" stroke="#000" stroke-width="0.9"/>
<linearGradient id="cbL" x1="0" x2="1" y1="0" y2="0"><stop offset="0.0" stop-color="#a50026"/><stop offset="0.1" stop-color="#d73027"/><stop offset="0.2" stop-color="#f46d43"/><stop offset="0.3" stop-color="#fdae61"/><stop offset="0.4" stop-color="#fee090"/><stop offset="0.5" stop-color="#ffffbf"/><stop offset="0.6" stop-color="#e0f3f8"/><stop offset="0.7" stop-color="#abd9e9"/><stop offset="0.8" stop-color="#74add1"/><stop offset="0.9" stop-color="#4575b4"/><stop offset="1.0" stop-color="#313695"/></linearGradient>
<rect x="63.7" y="383.3" width="235.9" height="12.1" fill="url(#cbL)" stroke="#1a1a1a" stroke-width="0.6"/>
<line x1="63.7" y1="395.4" x2="63.7" y2="398.2" stroke="#000" stroke-width="0.8"/>
<line x1="103.0" y1="395.4" x2="103.0" y2="398.2" stroke="#000" stroke-width="0.8"/>
<line x1="142.3" y1="395.4" x2="142.3" y2="398.2" stroke="#000" stroke-width="0.8"/>
<line x1="181.7" y1="395.4" x2="181.7" y2="398.2" stroke="#000" stroke-width="0.8"/>
<line x1="221.0" y1="395.4" x2="221.0" y2="398.2" stroke="#000" stroke-width="0.8"/>
<line x1="260.3" y1="395.4" x2="260.3" y2="398.2" stroke="#000" stroke-width="0.8"/>
<line x1="299.6" y1="395.4" x2="299.6" y2="398.2" stroke="#000" stroke-width="0.8"/>
<linearGradient id="cbR" x1="0" x2="1" y1="0" y2="0"><stop offset="0.0" stop-color="#a50026"/><stop offset="0.1" stop-color="#d73027"/><stop offset="0.2" stop-color="#f46d43"/><stop offset="0.3" stop-color="#fdae61"/><stop offset="0.4" stop-color="#fee090"/><stop offset="0.5" stop-color="#ffffbf"/><stop offset="0.6" stop-color="#e0f3f8"/><stop offset="0.7" stop-color="#abd9e9"/><stop offset="0.8" stop-color="#74add1"/><stop offset="0.9" stop-color="#4575b4"/><stop offset="1.0" stop-color="#313695"/></linearGradient>
<rect x="477.2" y="383.3" width="235.7" height="12.1" fill="url(#cbR)" stroke="#1a1a1a" stroke-width="0.6"/>
<line x1="477.2" y1="395.4" x2="477.2" y2="398.2" stroke="#000" stroke-width="0.8"/>
<line x1="516.5" y1="395.4" x2="516.5" y2="398.2" stroke="#000" stroke-width="0.8"/>
<line x1="555.8" y1="395.4" x2="555.8" y2="398.2" stroke="#000" stroke-width="0.8"/>
<line x1="595.0" y1="395.4" x2="595.0" y2="398.2" stroke="#000" stroke-width="0.8"/>
<line x1="634.3" y1="395.4" x2="634.3" y2="398.2" stroke="#000" stroke-width="0.8"/>
<line x1="673.6" y1="395.4" x2="673.6" y2="398.2" stroke="#000" stroke-width="0.8"/>
<line x1="712.9" y1="395.4" x2="712.9" y2="398.2" stroke="#000" stroke-width="0.8"/>
<text x="63.7" y="411" text-anchor="middle" font-size="11" textLength="26.8" lengthAdjust="spacingAndGlyphs">−150</text>
<text x="103.0" y="411" text-anchor="middle" font-size="11" textLength="26.8" lengthAdjust="spacingAndGlyphs">−100</text>
<text x="142.3" y="411" text-anchor="middle" font-size="11" textLength="20.5" lengthAdjust="spacingAndGlyphs">−50</text>
<text x="181.7" y="411" text-anchor="middle" font-size="11" textLength="6.4" lengthAdjust="spacingAndGlyphs">0</text>
<text x="221.0" y="411" text-anchor="middle" font-size="11" textLength="12.8" lengthAdjust="spacingAndGlyphs">50</text>
<text x="260.3" y="411" text-anchor="middle" font-size="11" textLength="19.2" lengthAdjust="spacingAndGlyphs">100</text>
<text x="299.6" y="411" text-anchor="middle" font-size="11" textLength="19.2" lengthAdjust="spacingAndGlyphs">150</text>
<text x="76.0" y="429" font-size="14.9" textLength="213" lengthAdjust="spacingAndGlyphs">Projected change (<tspan font-style="italic">mm/year</tspan>)</text>
<text x="477.2" y="411" text-anchor="middle" font-size="11" textLength="26.8" lengthAdjust="spacingAndGlyphs">−150</text>
<text x="516.5" y="411" text-anchor="middle" font-size="11" textLength="26.8" lengthAdjust="spacingAndGlyphs">−100</text>
<text x="555.8" y="411" text-anchor="middle" font-size="11" textLength="20.5" lengthAdjust="spacingAndGlyphs">−50</text>
<text x="595.0" y="411" text-anchor="middle" font-size="11" textLength="6.4" lengthAdjust="spacingAndGlyphs">0</text>
<text x="634.3" y="411" text-anchor="middle" font-size="11" textLength="12.8" lengthAdjust="spacingAndGlyphs">50</text>
<text x="673.6" y="411" text-anchor="middle" font-size="11" textLength="19.2" lengthAdjust="spacingAndGlyphs">100</text>
<text x="712.9" y="411" text-anchor="middle" font-size="11" textLength="19.2" lengthAdjust="spacingAndGlyphs">150</text>
<text x="489.3" y="429" font-size="14.9" textLength="213" lengthAdjust="spacingAndGlyphs">Projected change (<tspan font-style="italic">mm/year</tspan>)</text>
</svg></body></html>
